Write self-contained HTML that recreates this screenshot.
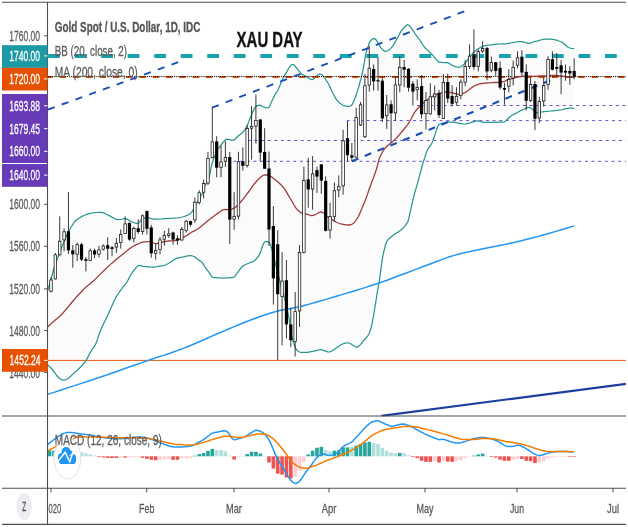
<!DOCTYPE html><html><head><meta charset="utf-8"><title>XAU DAY</title>
<style>html,body{margin:0;padding:0;background:#fff}body{width:628px;height:527px;overflow:hidden}svg{display:block}text{font-family:"Liberation Sans",sans-serif}</style></head><body>
<svg width="628" height="527" viewBox="0 0 628 527">
<rect width="628" height="527" fill="#fff"/>
<defs><clipPath id="cp"><rect x="48" y="3" width="577.9" height="413.5"/></clipPath><clipPath id="cm"><rect x="48" y="417" width="580" height="71"/></clipPath></defs>
<g clip-path="url(#cp)">
<path d="M47.5 291.0 L48.1 289.1 L49.0 286.3 L50.0 283.0 L51.1 279.0 L52.3 274.5 L53.4 270.3 L54.4 266.9 L55.4 264.0 L56.5 261.0 L57.6 257.9 L58.8 254.9 L60.0 251.9 L61.2 248.9 L62.3 245.9 L63.5 243.0 L64.6 240.3 L65.7 237.6 L66.8 235.2 L67.9 233.0 L68.9 231.0 L70.0 229.0 L71.1 227.0 L72.3 225.2 L73.4 223.5 L74.4 222.1 L75.4 221.0 L76.5 220.0 L77.6 219.1 L78.8 218.3 L80.1 217.5 L81.6 216.6 L83.3 215.8 L85.0 215.0 L86.7 214.4 L88.4 213.8 L90.2 213.4 L92.1 213.0 L94.0 212.7 L96.0 212.5 L98.0 212.3 L100.1 212.3 L101.9 212.4 L103.4 212.8 L104.7 213.4 L106.0 214.0 L107.4 214.7 L108.9 215.4 L110.2 216.1 L111.4 216.8 L112.4 217.4 L113.5 218.0 L114.6 218.6 L115.7 219.1 L116.9 219.5 L118.2 219.6 L119.6 219.5 L121.0 219.3 L122.5 219.0 L123.9 218.6 L125.3 218.5 L126.4 218.8 L127.5 219.4 L128.5 220.0 L129.6 220.6 L130.7 221.2 L132.0 221.8 L133.6 222.5 L135.5 223.2 L137.0 223.5 L138.0 223.3 L138.8 222.7 L139.5 222.0 L140.2 221.2 L141.0 220.3 L142.0 219.5 L143.4 218.7 L145.1 217.9 L147.0 217.5 L149.1 217.8 L151.4 218.6 L153.7 219.1 L155.8 219.2 L157.9 219.1 L160.0 219.0 L162.3 218.9 L164.7 218.7 L167.1 218.5 L169.4 218.4 L171.7 218.3 L174.0 218.2 L176.2 218.0 L178.4 217.8 L180.5 217.5 L182.4 217.0 L184.3 216.5 L186.0 215.8 L187.6 215.1 L189.2 214.3 L190.5 213.4 L191.5 212.4 L192.2 211.3 L193.0 210.0 L193.8 208.4 L194.7 206.7 L195.5 205.1 L196.3 203.7 L197.2 202.4 L198.0 201.0 L198.8 199.6 L199.7 198.2 L200.5 196.7 L201.4 195.2 L202.2 193.7 L203.0 192.0 L203.5 190.2 L204.0 188.3 L204.7 186.1 L206.0 183.5 L207.6 180.6 L209.0 177.3 L210.0 173.5 L210.7 169.3 L211.7 165.1 L213.0 160.8 L214.5 156.5 L216.0 152.8 L217.4 150.0 L218.9 147.9 L220.4 145.8 L222.2 143.5 L224.0 141.3 L225.7 139.7 L227.1 139.2 L228.3 139.3 L229.5 139.5 L230.8 139.8 L232.2 140.3 L233.6 140.2 L235.0 139.2 L236.4 137.7 L237.9 136.2 L239.6 134.9 L241.5 133.5 L243.2 131.8 L244.7 129.8 L246.1 127.6 L247.4 125.0 L248.7 121.9 L250.0 118.5 L251.3 115.2 L252.7 112.1 L254.1 109.2 L255.5 107.0 L256.9 105.8 L258.4 105.3 L259.8 105.2 L261.2 105.6 L262.6 106.5 L264.0 107.2 L265.6 107.7 L267.2 108.0 L268.6 107.6 L269.8 106.0 L270.8 103.6 L271.8 101.2 L273.0 98.7 L274.2 96.2 L275.3 94.0 L276.2 92.6 L277.0 91.6 L278.0 90.0 L279.3 87.0 L280.7 83.4 L282.0 80.2 L283.2 77.8 L284.4 75.9 L285.5 74.0 L286.6 72.1 L287.6 70.2 L288.7 68.5 L289.8 66.9 L291.0 65.4 L292.0 64.5 L292.9 64.4 L293.7 64.8 L294.5 65.5 L295.2 66.3 L296.0 67.2 L297.0 68.5 L298.5 70.3 L300.2 72.4 L302.0 74.2 L303.7 75.3 L305.3 76.1 L307.0 76.9 L308.7 78.0 L310.4 79.1 L312.0 79.6 L313.3 79.1 L314.4 78.1 L315.5 77.0 L316.6 76.0 L317.8 74.9 L318.8 74.2 L319.8 74.0 L320.6 74.1 L321.5 74.5 L322.3 75.0 L323.0 75.8 L324.0 77.0 L325.4 79.0 L327.0 81.5 L328.5 84.0 L329.8 86.5 L330.9 89.1 L332.0 91.5 L333.0 93.5 L334.0 95.3 L335.0 97.0 L335.9 98.6 L336.9 100.1 L338.0 101.5 L339.4 102.8 L341.0 104.0 L342.5 105.0 L344.0 105.7 L345.5 106.1 L346.8 106.4 L348.0 106.4 L349.1 106.3 L350.0 106.0 L350.7 105.8 L351.3 105.5 L352.0 104.7 L352.8 103.4 L353.6 101.6 L354.5 99.5 L355.4 97.1 L356.4 94.3 L357.3 91.6 L358.1 89.1 L358.8 86.6 L359.5 84.0 L360.2 81.4 L361.0 78.7 L361.7 75.8 L362.4 72.5 L363.2 68.9 L363.9 65.2 L364.6 61.0 L365.3 56.6 L366.0 53.0 L366.6 50.7 L367.2 49.0 L367.8 47.5 L368.4 45.7 L368.9 44.0 L369.5 42.5 L370.1 41.4 L370.8 40.5 L371.5 39.8 L372.3 39.2 L373.1 38.8 L373.9 38.6 L374.6 38.8 L375.4 39.3 L376.0 39.8 L376.5 40.3 L376.9 40.9 L377.4 41.6 L377.9 42.5 L378.4 43.5 L379.0 44.5 L379.6 45.6 L380.2 46.8 L380.9 47.8 L381.6 48.6 L382.3 49.4 L383.0 50.0 L383.7 50.6 L384.5 51.1 L385.3 51.3 L386.2 51.2 L387.1 50.9 L388.0 50.5 L388.9 50.0 L389.8 49.4 L390.6 48.6 L391.4 47.7 L392.2 46.7 L393.0 45.5 L393.9 44.1 L394.9 42.4 L395.8 40.8 L396.7 39.2 L397.6 37.6 L398.5 36.0 L399.4 34.3 L400.2 32.6 L401.1 31.1 L402.1 29.8 L403.1 28.6 L404.0 27.5 L404.9 26.6 L405.7 25.8 L406.5 25.2 L407.2 24.8 L407.8 24.7 L408.5 25.0 L409.4 25.8 L410.5 27.1 L411.6 28.5 L412.7 30.1 L413.9 31.9 L415.1 33.8 L416.5 35.7 L418.1 37.7 L419.4 39.5 L420.4 40.9 L421.2 42.2 L422.0 43.5 L423.0 45.0 L424.0 46.5 L425.0 47.8 L426.0 48.8 L427.0 49.6 L428.0 50.5 L429.1 51.6 L430.3 52.7 L431.5 53.9 L432.7 55.2 L433.8 56.6 L435.0 58.0 L436.1 59.4 L437.3 60.8 L438.5 61.8 L439.9 62.3 L441.5 62.4 L443.0 62.5 L444.5 62.5 L445.9 62.5 L447.3 62.7 L448.6 63.2 L449.8 63.8 L451.0 64.5 L452.1 65.1 L453.2 65.7 L454.3 66.2 L455.4 66.6 L456.5 67.0 L457.5 67.2 L458.5 67.3 L459.5 67.2 L460.4 67.0 L461.2 66.6 L461.8 66.1 L462.5 65.5 L463.2 64.9 L464.0 64.3 L464.8 63.5 L465.7 62.4 L466.6 61.2 L467.5 60.0 L468.3 58.9 L469.1 57.7 L470.0 56.5 L471.1 55.2 L472.3 53.8 L473.5 52.5 L474.7 51.4 L475.8 50.4 L477.0 49.5 L478.2 48.7 L479.3 48.1 L480.5 47.5 L481.6 46.9 L482.8 46.4 L484.0 46.0 L485.3 45.7 L486.6 45.4 L488.0 45.2 L489.5 45.0 L491.1 44.8 L492.8 44.6 L494.8 44.4 L496.9 44.2 L499.0 44.0 L501.1 43.9 L503.1 43.9 L505.0 43.8 L506.7 43.6 L508.3 43.3 L510.0 43.0 L511.9 42.7 L513.9 42.3 L515.6 42.0 L516.9 41.8 L518.0 41.6 L519.0 41.5 L520.0 41.5 L521.0 41.5 L522.0 41.6 L523.1 41.8 L524.3 42.2 L525.5 42.5 L526.6 42.9 L527.8 43.3 L529.0 43.4 L530.3 43.1 L531.6 42.5 L533.0 42.0 L534.6 41.6 L536.2 41.2 L537.8 40.8 L539.2 40.4 L540.6 40.0 L542.0 39.6 L543.5 39.3 L545.0 39.1 L546.5 39.0 L548.0 39.0 L549.5 39.1 L551.0 39.2 L552.5 39.4 L553.9 39.6 L555.3 39.9 L556.6 40.2 L557.8 40.6 L559.0 41.0 L560.2 41.5 L561.3 41.9 L562.3 42.5 L563.2 43.1 L564.1 43.8 L565.0 44.5 L565.8 45.3 L566.7 46.2 L567.6 46.9 L568.7 47.5 L569.9 48.0 L571.0 48.3 L572.2 48.5 L573.4 48.6 L574.2 48.6 L574.2 108.3 L573.4 108.3 L572.2 108.2 L571.0 108.2 L569.9 108.2 L568.8 108.2 L567.6 108.3 L566.4 108.5 L565.2 108.9 L564.0 109.2 L562.9 109.5 L561.8 109.8 L560.6 110.0 L559.1 110.2 L557.5 110.4 L556.0 110.5 L554.6 110.6 L553.2 110.8 L551.8 110.9 L550.2 111.0 L548.6 111.2 L547.0 111.3 L545.6 111.5 L544.3 111.6 L543.0 111.8 L541.8 112.0 L540.6 112.2 L539.5 112.4 L538.5 112.7 L537.6 112.9 L536.5 112.7 L535.2 111.8 L533.8 110.4 L532.5 109.2 L531.3 108.4 L530.1 107.8 L529.0 107.4 L528.1 107.4 L527.3 107.7 L526.5 108.0 L525.7 108.3 L524.8 108.7 L523.9 109.2 L522.8 109.7 L521.7 110.2 L520.5 110.8 L519.4 111.4 L518.2 112.0 L517.0 112.7 L515.7 113.4 L514.3 114.1 L513.0 114.8 L511.8 115.5 L510.7 116.2 L509.7 117.0 L508.8 117.8 L507.9 118.7 L507.0 119.5 L506.2 120.4 L505.5 121.2 L504.3 121.8 L502.4 122.1 L500.2 122.2 L498.0 122.2 L496.2 122.3 L494.5 122.3 L492.8 122.3 L491.1 122.3 L489.5 122.4 L488.0 122.4 L486.6 122.4 L485.3 122.4 L484.0 122.3 L482.8 122.1 L481.6 121.9 L480.5 121.6 L479.5 121.3 L478.4 120.9 L477.0 120.9 L474.9 121.4 L472.3 122.1 L470.0 122.8 L468.1 123.3 L466.4 123.8 L464.8 124.0 L463.1 123.9 L461.5 123.7 L460.0 123.4 L458.6 123.1 L457.3 122.8 L456.0 122.6 L454.7 122.4 L453.4 122.3 L452.0 122.2 L450.4 122.1 L448.8 122.0 L447.3 122.0 L446.1 122.2 L445.1 122.5 L444.0 122.8 L442.7 123.2 L441.4 123.6 L440.3 124.0 L439.6 124.3 L439.0 124.6 L438.5 125.2 L438.0 126.1 L437.4 127.3 L436.8 129.0 L435.9 131.6 L435.0 134.6 L434.0 137.5 L433.2 139.9 L432.4 142.1 L431.5 144.0 L430.5 145.5 L429.5 146.7 L428.5 148.0 L427.7 149.5 L427.0 151.1 L426.3 153.0 L425.5 155.2 L424.8 157.6 L424.0 160.0 L423.3 162.1 L422.7 164.2 L421.9 167.0 L420.8 171.0 L419.6 175.7 L418.5 180.0 L417.5 183.6 L416.5 186.8 L415.7 189.6 L415.1 191.7 L414.6 193.4 L414.0 195.5 L413.3 198.4 L412.5 201.7 L411.8 204.9 L411.2 207.7 L410.6 210.3 L410.0 213.0 L409.3 215.9 L408.7 218.8 L408.0 221.2 L407.4 222.7 L406.7 223.6 L406.0 224.5 L405.2 225.6 L404.2 226.8 L403.2 227.9 L402.0 229.0 L400.8 230.0 L399.5 231.0 L398.2 231.9 L397.0 232.7 L395.6 233.6 L394.1 234.6 L392.5 235.8 L391.0 237.0 L389.5 238.2 L388.1 239.6 L386.9 241.3 L386.0 243.5 L385.2 246.0 L384.5 249.0 L383.7 252.2 L382.9 255.9 L382.1 260.5 L381.2 266.9 L380.2 274.4 L379.3 281.0 L378.5 285.7 L377.8 289.5 L377.0 294.0 L376.1 300.0 L375.0 306.7 L374.0 313.0 L373.0 318.6 L372.0 323.7 L371.0 328.0 L370.0 331.2 L369.1 333.5 L368.0 335.5 L366.7 337.3 L365.3 338.8 L364.0 340.2 L362.8 341.7 L361.8 343.0 L360.8 344.2 L360.0 345.1 L359.2 345.8 L358.5 346.3 L357.9 346.8 L357.3 347.2 L356.5 347.2 L355.4 346.7 L354.2 346.0 L353.0 345.2 L351.8 344.5 L350.6 343.7 L349.5 343.2 L348.5 343.0 L347.5 342.9 L346.5 343.0 L345.5 343.1 L344.4 343.4 L343.3 343.7 L342.2 344.2 L341.1 344.8 L340.0 345.5 L338.8 346.3 L337.6 347.1 L336.3 348.0 L335.0 348.9 L333.7 349.7 L332.5 350.5 L331.5 351.2 L330.5 351.7 L329.3 352.0 L327.6 351.8 L325.7 351.2 L324.0 350.7 L322.7 350.2 L321.7 349.7 L320.6 349.5 L319.4 349.6 L318.2 350.0 L317.0 350.3 L315.9 350.6 L314.7 350.9 L313.6 351.2 L312.4 351.5 L311.2 351.7 L310.0 351.9 L308.8 352.1 L307.7 352.3 L306.5 352.4 L305.3 352.4 L304.2 352.4 L303.0 352.3 L301.8 352.3 L300.7 352.3 L299.5 352.0 L298.3 351.3 L297.1 350.2 L296.0 349.0 L295.2 347.6 L294.6 346.0 L294.0 344.0 L293.3 341.8 L292.5 339.3 L291.7 335.8 L290.9 330.7 L290.0 324.6 L289.0 318.3 L287.7 311.8 L286.2 305.0 L284.7 298.6 L283.2 293.1 L281.8 288.0 L280.3 282.8 L278.8 277.0 L277.3 270.9 L275.9 265.3 L274.6 260.1 L273.5 255.4 L272.4 251.3 L271.5 248.0 L270.7 245.4 L269.8 243.4 L268.7 242.2 L267.4 241.7 L266.3 241.6 L265.4 241.6 L264.6 242.0 L263.6 243.4 L262.3 246.7 L260.9 251.0 L259.3 254.8 L257.6 257.4 L255.7 259.5 L254.0 261.0 L252.6 261.9 L251.3 262.2 L250.0 262.6 L248.7 263.2 L247.3 263.8 L246.0 264.5 L244.8 265.0 L243.6 265.6 L242.3 266.5 L240.9 268.1 L239.4 270.1 L238.0 272.0 L236.7 273.9 L235.4 275.7 L234.0 277.0 L232.4 277.6 L230.7 277.7 L229.0 277.8 L227.4 277.9 L225.7 278.0 L223.9 278.0 L221.7 278.0 L219.2 277.9 L217.0 277.8 L215.2 277.7 L213.6 277.6 L212.2 277.0 L211.0 275.6 L209.9 273.8 L208.8 272.0 L207.5 270.3 L206.2 268.6 L205.0 267.0 L204.0 265.4 L203.2 263.9 L202.2 262.5 L201.0 261.5 L199.7 260.6 L198.3 259.7 L196.9 258.6 L195.4 257.4 L194.0 256.5 L192.7 256.0 L191.6 255.8 L190.4 255.7 L189.2 255.7 L188.1 255.8 L187.0 256.0 L185.9 256.3 L184.9 256.6 L183.8 256.9 L182.6 257.1 L181.3 257.3 L180.0 257.5 L178.6 257.8 L177.1 258.2 L175.5 258.8 L173.7 259.9 L171.8 261.3 L170.0 262.5 L168.4 263.5 L166.8 264.3 L165.4 265.0 L164.1 265.4 L162.9 265.6 L161.5 265.8 L159.6 266.2 L157.4 266.7 L155.4 267.0 L153.8 267.1 L152.4 267.1 L151.0 267.0 L149.6 266.9 L148.3 266.8 L147.0 266.7 L145.7 266.6 L144.4 266.5 L143.0 266.3 L141.6 265.9 L140.1 265.5 L138.7 265.5 L137.5 266.1 L136.5 267.2 L135.3 268.6 L133.9 270.3 L132.4 272.3 L131.0 274.5 L129.6 277.0 L128.3 279.6 L127.0 282.0 L125.7 283.8 L124.3 285.4 L123.0 287.0 L121.7 288.8 L120.3 290.6 L119.0 292.5 L117.7 294.5 L116.3 296.6 L115.0 299.0 L113.7 301.8 L112.3 304.9 L111.0 308.0 L109.6 311.0 L108.3 314.1 L106.9 317.0 L105.6 319.8 L104.2 322.4 L103.0 325.0 L102.0 327.2 L101.1 329.3 L100.0 332.0 L98.6 335.9 L97.1 340.4 L95.7 344.0 L94.7 345.9 L93.9 346.9 L93.0 348.0 L92.1 349.5 L91.1 351.1 L90.0 353.0 L88.8 355.4 L87.4 358.0 L86.1 360.4 L84.7 362.3 L83.4 364.0 L82.0 365.5 L80.7 367.0 L79.3 368.3 L78.1 369.5 L77.0 370.4 L76.0 371.2 L75.0 372.0 L74.0 372.9 L73.1 373.9 L72.0 375.0 L70.7 376.2 L69.4 377.4 L68.0 378.5 L66.6 379.3 L65.3 380.0 L63.8 380.2 L62.2 379.9 L60.6 379.1 L59.0 378.0 L57.6 376.5 L56.3 374.8 L55.0 373.0 L53.7 371.3 L52.3 369.5 L51.0 368.0 L49.6 366.7 L48.3 365.5 L47.4 364.7 Z" fill="#000" fill-opacity="0.017"/>
<line x1="417.0" y1="105.5" x2="628" y2="105.5" stroke="#6038d4" stroke-width="1" stroke-dasharray="2.9 3.73" stroke-opacity="0.92"/>
<line x1="346.8" y1="120.6" x2="628" y2="120.6" stroke="#6038d4" stroke-width="1" stroke-dasharray="2.9 3.73" stroke-opacity="0.92"/>
<line x1="247.8" y1="140.5" x2="628" y2="140.5" stroke="#6038d4" stroke-width="1" stroke-dasharray="2.9 3.73" stroke-opacity="0.92"/>
<line x1="233.6" y1="161.3" x2="628" y2="161.3" stroke="#6038d4" stroke-width="1" stroke-dasharray="2.9 3.73" stroke-opacity="0.92"/>
<line x1="48" y1="360.4" x2="628" y2="360.4" stroke="#e8590c" stroke-width="1"/>
<path d="M47.4 394.5 L53.2 392.6 L61.1 390.0 L70.6 386.9 L80.7 383.6 L90.8 380.3 L100.0 377.2 L108.8 374.2 L118.0 371.0 L127.0 367.8 L135.7 364.8 L143.4 362.1 L150.0 359.8 L155.1 358.1 L158.9 356.8 L161.8 355.9 L164.4 355.1 L167.0 354.2 L170.0 353.2 L173.3 352.0 L176.6 350.9 L179.8 349.7 L183.2 348.4 L186.7 347.0 L190.5 345.5 L194.5 343.8 L198.7 342.0 L203.1 340.0 L207.7 338.0 L212.4 335.9 L217.3 333.8 L222.5 331.6 L228.0 329.3 L233.7 326.9 L239.3 324.5 L244.8 322.3 L250.0 320.3 L254.9 318.5 L259.5 316.8 L264.0 315.2 L268.4 313.8 L272.6 312.5 L276.8 311.3 L280.8 310.3 L284.6 309.5 L288.3 308.9 L292.0 308.2 L295.7 307.5 L299.5 306.7 L303.5 305.7 L307.7 304.6 L311.9 303.4 L316.0 302.2 L320.1 301.0 L324.0 299.9 L327.6 298.9 L330.8 297.9 L334.0 297.0 L337.2 296.0 L340.9 294.9 L345.1 293.6 L349.8 292.2 L354.8 290.7 L360.1 289.1 L365.8 287.4 L372.1 285.3 L379.0 283.0 L387.0 280.2 L396.0 276.8 L405.6 273.2 L415.1 269.6 L423.9 266.3 L431.5 263.5 L437.3 261.3 L441.8 259.6 L445.7 258.1 L449.5 256.8 L454.1 255.4 L460.0 253.8 L467.8 252.0 L477.0 250.0 L486.8 248.0 L496.8 246.1 L506.0 244.2 L514.0 242.5 L520.5 241.0 L526.1 239.6 L531.1 238.3 L535.7 237.1 L540.2 235.8 L545.0 234.5 L550.3 233.0 L555.9 231.4 L561.4 229.8 L566.6 228.2 L570.9 226.9 L574.0 226.0" fill="none" stroke="#2196f3" stroke-width="1.5" stroke-linejoin="round"/>
<path d="M47.5 291.0 L48.1 289.1 L49.0 286.3 L50.0 283.0 L51.1 279.0 L52.3 274.5 L53.4 270.3 L54.4 266.9 L55.4 264.0 L56.5 261.0 L57.6 257.9 L58.8 254.9 L60.0 251.9 L61.2 248.9 L62.3 245.9 L63.5 243.0 L64.6 240.3 L65.7 237.6 L66.8 235.2 L67.9 233.0 L68.9 231.0 L70.0 229.0 L71.1 227.0 L72.3 225.2 L73.4 223.5 L74.4 222.1 L75.4 221.0 L76.5 220.0 L77.6 219.1 L78.8 218.3 L80.1 217.5 L81.6 216.6 L83.3 215.8 L85.0 215.0 L86.7 214.4 L88.4 213.8 L90.2 213.4 L92.1 213.0 L94.0 212.7 L96.0 212.5 L98.0 212.3 L100.1 212.3 L101.9 212.4 L103.4 212.8 L104.7 213.4 L106.0 214.0 L107.4 214.7 L108.9 215.4 L110.2 216.1 L111.4 216.8 L112.4 217.4 L113.5 218.0 L114.6 218.6 L115.7 219.1 L116.9 219.5 L118.2 219.6 L119.6 219.5 L121.0 219.3 L122.5 219.0 L123.9 218.6 L125.3 218.5 L126.4 218.8 L127.5 219.4 L128.5 220.0 L129.6 220.6 L130.7 221.2 L132.0 221.8 L133.6 222.5 L135.5 223.2 L137.0 223.5 L138.0 223.3 L138.8 222.7 L139.5 222.0 L140.2 221.2 L141.0 220.3 L142.0 219.5 L143.4 218.7 L145.1 217.9 L147.0 217.5 L149.1 217.8 L151.4 218.6 L153.7 219.1 L155.8 219.2 L157.9 219.1 L160.0 219.0 L162.3 218.9 L164.7 218.7 L167.1 218.5 L169.4 218.4 L171.7 218.3 L174.0 218.2 L176.2 218.0 L178.4 217.8 L180.5 217.5 L182.4 217.0 L184.3 216.5 L186.0 215.8 L187.6 215.1 L189.2 214.3 L190.5 213.4 L191.5 212.4 L192.2 211.3 L193.0 210.0 L193.8 208.4 L194.7 206.7 L195.5 205.1 L196.3 203.7 L197.2 202.4 L198.0 201.0 L198.8 199.6 L199.7 198.2 L200.5 196.7 L201.4 195.2 L202.2 193.7 L203.0 192.0 L203.5 190.2 L204.0 188.3 L204.7 186.1 L206.0 183.5 L207.6 180.6 L209.0 177.3 L210.0 173.5 L210.7 169.3 L211.7 165.1 L213.0 160.8 L214.5 156.5 L216.0 152.8 L217.4 150.0 L218.9 147.9 L220.4 145.8 L222.2 143.5 L224.0 141.3 L225.7 139.7 L227.1 139.2 L228.3 139.3 L229.5 139.5 L230.8 139.8 L232.2 140.3 L233.6 140.2 L235.0 139.2 L236.4 137.7 L237.9 136.2 L239.6 134.9 L241.5 133.5 L243.2 131.8 L244.7 129.8 L246.1 127.6 L247.4 125.0 L248.7 121.9 L250.0 118.5 L251.3 115.2 L252.7 112.1 L254.1 109.2 L255.5 107.0 L256.9 105.8 L258.4 105.3 L259.8 105.2 L261.2 105.6 L262.6 106.5 L264.0 107.2 L265.6 107.7 L267.2 108.0 L268.6 107.6 L269.8 106.0 L270.8 103.6 L271.8 101.2 L273.0 98.7 L274.2 96.2 L275.3 94.0 L276.2 92.6 L277.0 91.6 L278.0 90.0 L279.3 87.0 L280.7 83.4 L282.0 80.2 L283.2 77.8 L284.4 75.9 L285.5 74.0 L286.6 72.1 L287.6 70.2 L288.7 68.5 L289.8 66.9 L291.0 65.4 L292.0 64.5 L292.9 64.4 L293.7 64.8 L294.5 65.5 L295.2 66.3 L296.0 67.2 L297.0 68.5 L298.5 70.3 L300.2 72.4 L302.0 74.2 L303.7 75.3 L305.3 76.1 L307.0 76.9 L308.7 78.0 L310.4 79.1 L312.0 79.6 L313.3 79.1 L314.4 78.1 L315.5 77.0 L316.6 76.0 L317.8 74.9 L318.8 74.2 L319.8 74.0 L320.6 74.1 L321.5 74.5 L322.3 75.0 L323.0 75.8 L324.0 77.0 L325.4 79.0 L327.0 81.5 L328.5 84.0 L329.8 86.5 L330.9 89.1 L332.0 91.5 L333.0 93.5 L334.0 95.3 L335.0 97.0 L335.9 98.6 L336.9 100.1 L338.0 101.5 L339.4 102.8 L341.0 104.0 L342.5 105.0 L344.0 105.7 L345.5 106.1 L346.8 106.4 L348.0 106.4 L349.1 106.3 L350.0 106.0 L350.7 105.8 L351.3 105.5 L352.0 104.7 L352.8 103.4 L353.6 101.6 L354.5 99.5 L355.4 97.1 L356.4 94.3 L357.3 91.6 L358.1 89.1 L358.8 86.6 L359.5 84.0 L360.2 81.4 L361.0 78.7 L361.7 75.8 L362.4 72.5 L363.2 68.9 L363.9 65.2 L364.6 61.0 L365.3 56.6 L366.0 53.0 L366.6 50.7 L367.2 49.0 L367.8 47.5 L368.4 45.7 L368.9 44.0 L369.5 42.5 L370.1 41.4 L370.8 40.5 L371.5 39.8 L372.3 39.2 L373.1 38.8 L373.9 38.6 L374.6 38.8 L375.4 39.3 L376.0 39.8 L376.5 40.3 L376.9 40.9 L377.4 41.6 L377.9 42.5 L378.4 43.5 L379.0 44.5 L379.6 45.6 L380.2 46.8 L380.9 47.8 L381.6 48.6 L382.3 49.4 L383.0 50.0 L383.7 50.6 L384.5 51.1 L385.3 51.3 L386.2 51.2 L387.1 50.9 L388.0 50.5 L388.9 50.0 L389.8 49.4 L390.6 48.6 L391.4 47.7 L392.2 46.7 L393.0 45.5 L393.9 44.1 L394.9 42.4 L395.8 40.8 L396.7 39.2 L397.6 37.6 L398.5 36.0 L399.4 34.3 L400.2 32.6 L401.1 31.1 L402.1 29.8 L403.1 28.6 L404.0 27.5 L404.9 26.6 L405.7 25.8 L406.5 25.2 L407.2 24.8 L407.8 24.7 L408.5 25.0 L409.4 25.8 L410.5 27.1 L411.6 28.5 L412.7 30.1 L413.9 31.9 L415.1 33.8 L416.5 35.7 L418.1 37.7 L419.4 39.5 L420.4 40.9 L421.2 42.2 L422.0 43.5 L423.0 45.0 L424.0 46.5 L425.0 47.8 L426.0 48.8 L427.0 49.6 L428.0 50.5 L429.1 51.6 L430.3 52.7 L431.5 53.9 L432.7 55.2 L433.8 56.6 L435.0 58.0 L436.1 59.4 L437.3 60.8 L438.5 61.8 L439.9 62.3 L441.5 62.4 L443.0 62.5 L444.5 62.5 L445.9 62.5 L447.3 62.7 L448.6 63.2 L449.8 63.8 L451.0 64.5 L452.1 65.1 L453.2 65.7 L454.3 66.2 L455.4 66.6 L456.5 67.0 L457.5 67.2 L458.5 67.3 L459.5 67.2 L460.4 67.0 L461.2 66.6 L461.8 66.1 L462.5 65.5 L463.2 64.9 L464.0 64.3 L464.8 63.5 L465.7 62.4 L466.6 61.2 L467.5 60.0 L468.3 58.9 L469.1 57.7 L470.0 56.5 L471.1 55.2 L472.3 53.8 L473.5 52.5 L474.7 51.4 L475.8 50.4 L477.0 49.5 L478.2 48.7 L479.3 48.1 L480.5 47.5 L481.6 46.9 L482.8 46.4 L484.0 46.0 L485.3 45.7 L486.6 45.4 L488.0 45.2 L489.5 45.0 L491.1 44.8 L492.8 44.6 L494.8 44.4 L496.9 44.2 L499.0 44.0 L501.1 43.9 L503.1 43.9 L505.0 43.8 L506.7 43.6 L508.3 43.3 L510.0 43.0 L511.9 42.7 L513.9 42.3 L515.6 42.0 L516.9 41.8 L518.0 41.6 L519.0 41.5 L520.0 41.5 L521.0 41.5 L522.0 41.6 L523.1 41.8 L524.3 42.2 L525.5 42.5 L526.6 42.9 L527.8 43.3 L529.0 43.4 L530.3 43.1 L531.6 42.5 L533.0 42.0 L534.6 41.6 L536.2 41.2 L537.8 40.8 L539.2 40.4 L540.6 40.0 L542.0 39.6 L543.5 39.3 L545.0 39.1 L546.5 39.0 L548.0 39.0 L549.5 39.1 L551.0 39.2 L552.5 39.4 L553.9 39.6 L555.3 39.9 L556.6 40.2 L557.8 40.6 L559.0 41.0 L560.2 41.5 L561.3 41.9 L562.3 42.5 L563.2 43.1 L564.1 43.8 L565.0 44.5 L565.8 45.3 L566.7 46.2 L567.6 46.9 L568.7 47.5 L569.9 48.0 L571.0 48.3 L572.2 48.5 L573.4 48.6 L574.2 48.6" fill="none" stroke="#27968f" stroke-width="1.25" stroke-linejoin="round"/>
<path d="M47.4 364.7 L48.3 365.5 L49.6 366.7 L51.0 368.0 L52.3 369.5 L53.7 371.3 L55.0 373.0 L56.3 374.8 L57.6 376.5 L59.0 378.0 L60.6 379.1 L62.2 379.9 L63.8 380.2 L65.3 380.0 L66.6 379.3 L68.0 378.5 L69.4 377.4 L70.7 376.2 L72.0 375.0 L73.1 373.9 L74.0 372.9 L75.0 372.0 L76.0 371.2 L77.0 370.4 L78.1 369.5 L79.3 368.3 L80.7 367.0 L82.0 365.5 L83.4 364.0 L84.7 362.3 L86.1 360.4 L87.4 358.0 L88.8 355.4 L90.0 353.0 L91.1 351.1 L92.1 349.5 L93.0 348.0 L93.9 346.9 L94.7 345.9 L95.7 344.0 L97.1 340.4 L98.6 335.9 L100.0 332.0 L101.1 329.3 L102.0 327.2 L103.0 325.0 L104.2 322.4 L105.6 319.8 L106.9 317.0 L108.3 314.1 L109.6 311.0 L111.0 308.0 L112.3 304.9 L113.7 301.8 L115.0 299.0 L116.3 296.6 L117.7 294.5 L119.0 292.5 L120.3 290.6 L121.7 288.8 L123.0 287.0 L124.3 285.4 L125.7 283.8 L127.0 282.0 L128.3 279.6 L129.6 277.0 L131.0 274.5 L132.4 272.3 L133.9 270.3 L135.3 268.6 L136.5 267.2 L137.5 266.1 L138.7 265.5 L140.1 265.5 L141.6 265.9 L143.0 266.3 L144.4 266.5 L145.7 266.6 L147.0 266.7 L148.3 266.8 L149.6 266.9 L151.0 267.0 L152.4 267.1 L153.8 267.1 L155.4 267.0 L157.4 266.7 L159.6 266.2 L161.5 265.8 L162.9 265.6 L164.1 265.4 L165.4 265.0 L166.8 264.3 L168.4 263.5 L170.0 262.5 L171.8 261.3 L173.7 259.9 L175.5 258.8 L177.1 258.2 L178.6 257.8 L180.0 257.5 L181.3 257.3 L182.6 257.1 L183.8 256.9 L184.9 256.6 L185.9 256.3 L187.0 256.0 L188.1 255.8 L189.2 255.7 L190.4 255.7 L191.6 255.8 L192.7 256.0 L194.0 256.5 L195.4 257.4 L196.9 258.6 L198.3 259.7 L199.7 260.6 L201.0 261.5 L202.2 262.5 L203.2 263.9 L204.0 265.4 L205.0 267.0 L206.2 268.6 L207.5 270.3 L208.8 272.0 L209.9 273.8 L211.0 275.6 L212.2 277.0 L213.6 277.6 L215.2 277.7 L217.0 277.8 L219.2 277.9 L221.7 278.0 L223.9 278.0 L225.7 278.0 L227.4 277.9 L229.0 277.8 L230.7 277.7 L232.4 277.6 L234.0 277.0 L235.4 275.7 L236.7 273.9 L238.0 272.0 L239.4 270.1 L240.9 268.1 L242.3 266.5 L243.6 265.6 L244.8 265.0 L246.0 264.5 L247.3 263.8 L248.7 263.2 L250.0 262.6 L251.3 262.2 L252.6 261.9 L254.0 261.0 L255.7 259.5 L257.6 257.4 L259.3 254.8 L260.9 251.0 L262.3 246.7 L263.6 243.4 L264.6 242.0 L265.4 241.6 L266.3 241.6 L267.4 241.7 L268.7 242.2 L269.8 243.4 L270.7 245.4 L271.5 248.0 L272.4 251.3 L273.5 255.4 L274.6 260.1 L275.9 265.3 L277.3 270.9 L278.8 277.0 L280.3 282.8 L281.8 288.0 L283.2 293.1 L284.7 298.6 L286.2 305.0 L287.7 311.8 L289.0 318.3 L290.0 324.6 L290.9 330.7 L291.7 335.8 L292.5 339.3 L293.3 341.8 L294.0 344.0 L294.6 346.0 L295.2 347.6 L296.0 349.0 L297.1 350.2 L298.3 351.3 L299.5 352.0 L300.7 352.3 L301.8 352.3 L303.0 352.3 L304.2 352.4 L305.3 352.4 L306.5 352.4 L307.7 352.3 L308.8 352.1 L310.0 351.9 L311.2 351.7 L312.4 351.5 L313.6 351.2 L314.7 350.9 L315.9 350.6 L317.0 350.3 L318.2 350.0 L319.4 349.6 L320.6 349.5 L321.7 349.7 L322.7 350.2 L324.0 350.7 L325.7 351.2 L327.6 351.8 L329.3 352.0 L330.5 351.7 L331.5 351.2 L332.5 350.5 L333.7 349.7 L335.0 348.9 L336.3 348.0 L337.6 347.1 L338.8 346.3 L340.0 345.5 L341.1 344.8 L342.2 344.2 L343.3 343.7 L344.4 343.4 L345.5 343.1 L346.5 343.0 L347.5 342.9 L348.5 343.0 L349.5 343.2 L350.6 343.7 L351.8 344.5 L353.0 345.2 L354.2 346.0 L355.4 346.7 L356.5 347.2 L357.3 347.2 L357.9 346.8 L358.5 346.3 L359.2 345.8 L360.0 345.1 L360.8 344.2 L361.8 343.0 L362.8 341.7 L364.0 340.2 L365.3 338.8 L366.7 337.3 L368.0 335.5 L369.1 333.5 L370.0 331.2 L371.0 328.0 L372.0 323.7 L373.0 318.6 L374.0 313.0 L375.0 306.7 L376.1 300.0 L377.0 294.0 L377.8 289.5 L378.5 285.7 L379.3 281.0 L380.2 274.4 L381.2 266.9 L382.1 260.5 L382.9 255.9 L383.7 252.2 L384.5 249.0 L385.2 246.0 L386.0 243.5 L386.9 241.3 L388.1 239.6 L389.5 238.2 L391.0 237.0 L392.5 235.8 L394.1 234.6 L395.6 233.6 L397.0 232.7 L398.2 231.9 L399.5 231.0 L400.8 230.0 L402.0 229.0 L403.2 227.9 L404.2 226.8 L405.2 225.6 L406.0 224.5 L406.7 223.6 L407.4 222.7 L408.0 221.2 L408.7 218.8 L409.3 215.9 L410.0 213.0 L410.6 210.3 L411.2 207.7 L411.8 204.9 L412.5 201.7 L413.3 198.4 L414.0 195.5 L414.6 193.4 L415.1 191.7 L415.7 189.6 L416.5 186.8 L417.5 183.6 L418.5 180.0 L419.6 175.7 L420.8 171.0 L421.9 167.0 L422.7 164.2 L423.3 162.1 L424.0 160.0 L424.8 157.6 L425.5 155.2 L426.3 153.0 L427.0 151.1 L427.7 149.5 L428.5 148.0 L429.5 146.7 L430.5 145.5 L431.5 144.0 L432.4 142.1 L433.2 139.9 L434.0 137.5 L435.0 134.6 L435.9 131.6 L436.8 129.0 L437.4 127.3 L438.0 126.1 L438.5 125.2 L439.0 124.6 L439.6 124.3 L440.3 124.0 L441.4 123.6 L442.7 123.2 L444.0 122.8 L445.1 122.5 L446.1 122.2 L447.3 122.0 L448.8 122.0 L450.4 122.1 L452.0 122.2 L453.4 122.3 L454.7 122.4 L456.0 122.6 L457.3 122.8 L458.6 123.1 L460.0 123.4 L461.5 123.7 L463.1 123.9 L464.8 124.0 L466.4 123.8 L468.1 123.3 L470.0 122.8 L472.3 122.1 L474.9 121.4 L477.0 120.9 L478.4 120.9 L479.5 121.3 L480.5 121.6 L481.6 121.9 L482.8 122.1 L484.0 122.3 L485.3 122.4 L486.6 122.4 L488.0 122.4 L489.5 122.4 L491.1 122.3 L492.8 122.3 L494.5 122.3 L496.2 122.3 L498.0 122.2 L500.2 122.2 L502.4 122.1 L504.3 121.8 L505.5 121.2 L506.2 120.4 L507.0 119.5 L507.9 118.7 L508.8 117.8 L509.7 117.0 L510.7 116.2 L511.8 115.5 L513.0 114.8 L514.3 114.1 L515.7 113.4 L517.0 112.7 L518.2 112.0 L519.4 111.4 L520.5 110.8 L521.7 110.2 L522.8 109.7 L523.9 109.2 L524.8 108.7 L525.7 108.3 L526.5 108.0 L527.3 107.7 L528.1 107.4 L529.0 107.4 L530.1 107.8 L531.3 108.4 L532.5 109.2 L533.8 110.4 L535.2 111.8 L536.5 112.7 L537.6 112.9 L538.5 112.7 L539.5 112.4 L540.6 112.2 L541.8 112.0 L543.0 111.8 L544.3 111.6 L545.6 111.5 L547.0 111.3 L548.6 111.2 L550.2 111.0 L551.8 110.9 L553.2 110.8 L554.6 110.6 L556.0 110.5 L557.5 110.4 L559.1 110.2 L560.6 110.0 L561.8 109.8 L562.9 109.5 L564.0 109.2 L565.2 108.9 L566.4 108.5 L567.6 108.3 L568.8 108.2 L569.9 108.2 L571.0 108.2 L572.2 108.2 L573.4 108.3 L574.2 108.3" fill="none" stroke="#27968f" stroke-width="1.25" stroke-linejoin="round"/>
<line x1="48.1" y1="56" x2="628" y2="56" stroke="#17a2ae" stroke-width="4" stroke-dasharray="11.8 14.72"/>
<line x1="48" y1="76.9" x2="628" y2="76.9" stroke="#e65100" stroke-width="2" stroke-dasharray="6.4 6.9" stroke-dashoffset="1.7"/>
<line x1="48" y1="76.6" x2="628" y2="76.6" stroke="#000" stroke-width="1" stroke-dasharray="1.1 1"/>
<line x1="48" y1="109.5" x2="184.5" y2="59.9" stroke="#1b4fb8" stroke-width="1.9" stroke-dasharray="7.2 7.4"/>
<line x1="212" y1="107.6" x2="465" y2="11.1" stroke="#1b4fb8" stroke-width="1.9" stroke-dasharray="7.2 7.4"/>
<line x1="352" y1="161.2" x2="550.7" y2="80.2" stroke="#1b4fb8" stroke-width="2.15" stroke-dasharray="7 6.8"/>
<line x1="381.5" y1="415.8" x2="628" y2="383.6" stroke="#1a3f9e" stroke-width="2.2"/>
<path d="M47.4 327.1 L48.8 325.8 L50.8 324.0 L53.0 322.0 L55.3 320.1 L57.7 318.1 L60.0 316.0 L62.0 314.0 L63.9 311.9 L66.0 309.5 L68.4 306.6 L70.9 303.5 L73.4 300.5 L75.7 297.9 L77.8 295.5 L80.0 293.2 L82.3 290.8 L84.6 288.4 L86.8 286.3 L88.5 284.9 L90.1 283.7 L92.2 282.0 L95.3 279.1 L98.8 275.6 L101.8 272.6 L103.8 270.7 L105.3 269.2 L107.0 267.6 L109.2 265.6 L111.5 263.4 L114.1 261.2 L117.0 258.8 L120.2 256.3 L122.8 254.2 L124.5 252.8 L125.7 251.8 L127.0 250.8 L128.4 249.6 L129.9 248.4 L131.6 247.2 L133.9 245.9 L136.4 244.6 L138.6 243.6 L140.0 243.0 L141.0 242.7 L142.0 242.4 L143.1 242.1 L144.3 241.9 L145.6 241.8 L147.2 241.7 L148.8 241.7 L150.4 241.8 L151.7 242.2 L152.9 242.8 L154.0 243.2 L155.0 243.4 L156.0 243.6 L157.1 243.5 L158.6 243.2 L160.3 242.7 L162.0 242.3 L163.7 241.9 L165.4 241.5 L167.1 241.2 L168.7 241.0 L170.4 240.9 L172.0 240.8 L173.7 240.7 L175.4 240.5 L177.1 240.2 L178.7 239.6 L180.4 238.8 L182.0 238.0 L183.7 237.1 L185.5 236.2 L187.2 235.2 L188.8 234.1 L190.4 233.0 L192.0 232.0 L193.7 231.1 L195.5 230.3 L197.2 229.3 L198.8 228.2 L200.4 226.9 L202.0 225.6 L203.7 224.2 L205.5 222.7 L207.2 221.3 L208.8 220.0 L210.4 218.8 L212.0 217.5 L213.8 216.2 L215.6 214.8 L217.3 213.6 L218.7 212.6 L219.9 211.7 L221.0 211.0 L222.0 210.4 L222.9 209.9 L224.0 209.6 L225.7 209.5 L227.6 209.6 L229.3 209.6 L230.7 209.4 L231.9 209.1 L233.0 208.6 L234.1 208.1 L235.1 207.5 L236.3 206.5 L237.8 205.0 L239.6 203.2 L241.5 201.0 L243.7 198.3 L246.1 195.2 L248.5 192.0 L250.9 188.7 L253.2 185.4 L255.5 182.5 L257.7 180.0 L259.8 177.9 L261.7 176.3 L263.3 175.4 L264.6 175.0 L266.0 174.9 L267.4 175.0 L268.8 175.5 L270.4 176.3 L272.3 177.4 L274.3 178.9 L276.5 180.7 L278.8 182.7 L281.2 185.0 L283.6 187.7 L286.0 191.2 L288.4 195.3 L290.6 199.0 L292.5 202.3 L294.2 205.3 L295.8 207.8 L297.3 209.7 L298.8 211.1 L300.2 212.2 L301.5 212.9 L302.7 213.4 L304.0 213.7 L305.3 214.0 L306.7 214.2 L308.0 214.5 L309.3 215.0 L310.6 215.5 L311.9 215.7 L313.4 215.4 L315.0 214.7 L316.5 214.0 L317.9 213.2 L319.3 212.4 L320.6 211.9 L321.6 212.0 L322.5 212.4 L323.5 213.0 L324.6 213.9 L325.7 215.1 L326.8 216.2 L328.0 217.0 L329.3 217.8 L330.5 218.5 L331.6 219.3 L332.7 220.1 L333.8 220.8 L334.9 221.4 L335.9 222.0 L337.0 222.5 L338.2 223.0 L339.5 223.5 L340.8 223.9 L342.2 224.2 L343.6 224.5 L345.0 224.7 L346.6 224.9 L348.2 225.0 L349.5 225.0 L350.4 224.9 L351.1 224.6 L351.8 224.3 L352.5 223.9 L353.2 223.5 L353.9 222.9 L354.6 222.1 L355.3 221.2 L356.0 220.2 L356.8 219.0 L357.7 217.7 L358.5 216.2 L359.3 214.4 L360.2 212.5 L361.0 210.5 L361.9 208.5 L362.7 206.4 L363.6 204.3 L364.4 202.4 L365.2 200.6 L366.0 198.5 L366.9 195.9 L367.9 193.1 L368.8 190.3 L369.7 187.8 L370.6 185.4 L371.5 183.0 L372.3 180.7 L373.2 178.6 L374.0 176.3 L374.8 174.0 L375.6 171.7 L376.5 169.0 L377.4 165.6 L378.4 162.0 L379.3 158.8 L380.1 156.6 L381.0 154.8 L381.8 153.2 L382.7 151.6 L383.6 150.0 L384.6 148.6 L385.9 147.2 L387.3 145.9 L388.8 144.7 L390.2 143.6 L391.6 142.5 L393.0 141.3 L394.5 139.9 L396.1 138.4 L397.6 136.8 L399.1 135.1 L400.5 133.3 L402.0 131.5 L403.5 129.8 L404.9 128.0 L406.3 126.3 L407.6 124.6 L408.8 122.9 L410.0 121.0 L411.2 118.8 L412.3 116.5 L413.3 114.5 L414.3 112.9 L415.1 111.7 L416.0 110.5 L416.8 109.5 L417.6 108.6 L418.4 107.7 L419.2 106.8 L420.1 105.9 L421.0 105.0 L422.1 104.0 L423.3 103.0 L424.5 102.0 L425.7 101.1 L426.8 100.2 L428.0 99.3 L429.2 98.5 L430.3 97.7 L431.5 97.0 L432.7 96.3 L433.8 95.8 L435.0 95.2 L436.2 94.7 L437.3 94.2 L438.5 93.8 L439.7 93.4 L440.8 93.1 L442.0 92.8 L443.2 92.5 L444.3 92.2 L445.5 92.0 L446.7 92.0 L447.8 92.1 L449.0 92.2 L450.2 92.4 L451.3 92.6 L452.5 92.9 L453.7 93.2 L454.8 93.5 L456.0 93.8 L457.2 94.1 L458.3 94.4 L459.5 94.5 L460.7 94.3 L461.8 93.8 L463.0 93.3 L464.2 92.8 L465.3 92.3 L466.5 91.6 L467.7 90.8 L468.8 89.9 L470.0 89.0 L471.2 88.1 L472.4 87.1 L473.6 86.3 L474.7 85.7 L475.9 85.2 L477.0 84.8 L478.2 84.4 L479.3 84.0 L480.6 83.7 L482.0 83.5 L483.5 83.3 L485.0 83.1 L486.4 83.0 L487.8 82.9 L489.3 82.8 L490.9 82.7 L492.5 82.6 L494.0 82.5 L495.4 82.5 L496.6 82.5 L498.0 82.4 L499.6 82.2 L501.3 82.0 L502.8 81.7 L504.0 81.4 L504.9 81.1 L506.0 80.7 L507.2 80.2 L508.6 79.7 L509.8 79.2 L510.9 78.8 L511.9 78.5 L513.0 78.2 L514.2 77.9 L515.5 77.5 L516.8 77.2 L518.2 76.9 L519.6 76.7 L521.0 76.5 L522.5 76.3 L524.0 76.2 L525.5 76.1 L527.0 76.1 L528.5 76.1 L530.0 76.2 L531.4 76.2 L532.8 76.3 L534.3 76.3 L536.0 76.2 L537.7 76.1 L539.5 76.0 L541.2 75.9 L542.9 75.9 L544.8 75.8 L547.1 75.7 L549.6 75.5 L551.8 75.4 L553.4 75.4 L554.7 75.4 L556.0 75.5 L557.5 75.6 L559.1 75.7 L560.6 75.8 L562.1 76.0 L563.5 76.3 L565.0 76.5 L566.4 76.7 L567.8 77.0 L569.3 77.2 L571.1 77.3 L572.9 77.4 L574.2 77.5" fill="none" stroke="#9e3d3d" stroke-width="1.3" stroke-linejoin="round"/>
<line x1="51.00" y1="277.0" x2="51.00" y2="292.5" stroke="#222" stroke-width="0.9"/>
<rect x="49.75" y="280.0" width="2.5" height="11.2" fill="#fff" stroke="#111" stroke-width="0.75"/>
<line x1="55.36" y1="253.0" x2="55.36" y2="279.6" stroke="#222" stroke-width="0.9"/>
<rect x="54.11" y="254.8" width="2.5" height="24.1" fill="#fff" stroke="#111" stroke-width="0.75"/>
<line x1="59.72" y1="216.3" x2="59.72" y2="255.4" stroke="#222" stroke-width="0.9"/>
<rect x="58.47" y="241.2" width="2.5" height="13.7" fill="#fff" stroke="#111" stroke-width="0.75"/>
<line x1="64.08" y1="228.2" x2="64.08" y2="251.3" stroke="#222" stroke-width="0.9"/>
<rect x="62.83" y="231.8" width="2.5" height="8.1" fill="#fff" stroke="#111" stroke-width="0.75"/>
<line x1="68.44" y1="192.1" x2="68.44" y2="254.0" stroke="#222" stroke-width="0.9"/>
<rect x="66.84" y="231.2" width="3.2" height="19.2" fill="#000"/>
<line x1="72.80" y1="245.0" x2="72.80" y2="267.7" stroke="#222" stroke-width="0.9"/>
<rect x="71.20" y="250.4" width="3.2" height="3.9" fill="#000"/>
<line x1="77.16" y1="242.5" x2="77.16" y2="261.0" stroke="#222" stroke-width="0.9"/>
<rect x="75.91" y="244.7" width="2.5" height="9.5" fill="#fff" stroke="#111" stroke-width="0.75"/>
<line x1="81.52" y1="243.0" x2="81.52" y2="261.0" stroke="#222" stroke-width="0.9"/>
<rect x="79.92" y="244.3" width="3.2" height="15.4" fill="#000"/>
<line x1="85.88" y1="257.0" x2="85.88" y2="271.4" stroke="#222" stroke-width="0.9"/>
<rect x="84.28" y="259.2" width="3.2" height="1.6" fill="#000"/>
<line x1="90.24" y1="248.5" x2="90.24" y2="261.0" stroke="#222" stroke-width="0.9"/>
<rect x="88.99" y="250.8" width="2.5" height="9.5" fill="#fff" stroke="#111" stroke-width="0.75"/>
<line x1="94.60" y1="248.7" x2="94.60" y2="258.3" stroke="#222" stroke-width="0.9"/>
<rect x="93.00" y="250.4" width="3.2" height="4.1" fill="#000"/>
<line x1="98.96" y1="245.7" x2="98.96" y2="257.4" stroke="#222" stroke-width="0.9"/>
<rect x="97.71" y="249.9" width="2.5" height="4.2" fill="#fff" stroke="#111" stroke-width="0.75"/>
<line x1="103.32" y1="244.3" x2="103.32" y2="250.5" stroke="#222" stroke-width="0.9"/>
<rect x="102.07" y="246.0" width="2.5" height="3.2" fill="#fff" stroke="#111" stroke-width="0.75"/>
<line x1="107.68" y1="237.3" x2="107.68" y2="260.0" stroke="#222" stroke-width="0.9"/>
<rect x="106.08" y="245.2" width="3.2" height="3.5" fill="#000"/>
<line x1="112.04" y1="246.0" x2="112.04" y2="256.2" stroke="#222" stroke-width="0.9"/>
<rect x="110.44" y="247.3" width="3.2" height="1.6" fill="#000"/>
<line x1="116.40" y1="238.2" x2="116.40" y2="253.0" stroke="#222" stroke-width="0.9"/>
<rect x="115.15" y="243.3" width="2.5" height="3.8" fill="#fff" stroke="#111" stroke-width="0.75"/>
<line x1="120.76" y1="229.4" x2="120.76" y2="248.7" stroke="#222" stroke-width="0.9"/>
<rect x="119.51" y="234.4" width="2.5" height="8.2" fill="#fff" stroke="#111" stroke-width="0.75"/>
<line x1="125.12" y1="216.3" x2="125.12" y2="234.0" stroke="#222" stroke-width="0.9"/>
<rect x="123.87" y="223.9" width="2.5" height="9.5" fill="#fff" stroke="#111" stroke-width="0.75"/>
<line x1="129.48" y1="222.4" x2="129.48" y2="240.8" stroke="#222" stroke-width="0.9"/>
<rect x="127.88" y="222.9" width="3.2" height="16.7" fill="#000"/>
<line x1="133.84" y1="226.8" x2="133.84" y2="242.5" stroke="#222" stroke-width="0.9"/>
<rect x="132.59" y="228.5" width="2.5" height="9.8" fill="#fff" stroke="#111" stroke-width="0.75"/>
<line x1="138.20" y1="219.4" x2="138.20" y2="233.8" stroke="#222" stroke-width="0.9"/>
<rect x="136.60" y="228.2" width="3.2" height="3.8" fill="#000"/>
<line x1="142.56" y1="214.5" x2="142.56" y2="234.7" stroke="#222" stroke-width="0.9"/>
<rect x="141.31" y="215.8" width="2.5" height="15.6" fill="#fff" stroke="#111" stroke-width="0.75"/>
<line x1="146.92" y1="210.6" x2="146.92" y2="234.5" stroke="#222" stroke-width="0.9"/>
<rect x="145.32" y="211.0" width="3.2" height="17.8" fill="#000"/>
<line x1="151.28" y1="224.8" x2="151.28" y2="257.7" stroke="#222" stroke-width="0.9"/>
<rect x="149.68" y="227.5" width="3.2" height="25.8" fill="#000"/>
<line x1="155.64" y1="244.0" x2="155.64" y2="259.7" stroke="#222" stroke-width="0.9"/>
<rect x="154.39" y="250.3" width="2.5" height="2.9" fill="#fff" stroke="#111" stroke-width="0.75"/>
<line x1="160.00" y1="237.0" x2="160.00" y2="254.4" stroke="#222" stroke-width="0.9"/>
<rect x="158.75" y="239.9" width="2.5" height="9.7" fill="#fff" stroke="#111" stroke-width="0.75"/>
<line x1="164.36" y1="230.8" x2="164.36" y2="245.7" stroke="#222" stroke-width="0.9"/>
<rect x="163.11" y="235.5" width="2.5" height="3.7" fill="#fff" stroke="#111" stroke-width="0.75"/>
<line x1="168.72" y1="228.2" x2="168.72" y2="237.8" stroke="#222" stroke-width="0.9"/>
<rect x="167.47" y="233.8" width="2.5" height="1.6" fill="#fff" stroke="#111" stroke-width="0.75"/>
<line x1="173.08" y1="231.7" x2="173.08" y2="244.8" stroke="#222" stroke-width="0.9"/>
<rect x="171.48" y="232.5" width="3.2" height="7.1" fill="#000"/>
<line x1="177.44" y1="235.2" x2="177.44" y2="244.8" stroke="#222" stroke-width="0.9"/>
<rect x="175.84" y="238.3" width="3.2" height="2.1" fill="#000"/>
<line x1="181.80" y1="227.0" x2="181.80" y2="240.6" stroke="#222" stroke-width="0.9"/>
<rect x="180.55" y="229.3" width="2.5" height="10.7" fill="#fff" stroke="#111" stroke-width="0.75"/>
<line x1="186.16" y1="220.0" x2="186.16" y2="232.5" stroke="#222" stroke-width="0.9"/>
<rect x="184.91" y="221.2" width="2.5" height="9.3" fill="#fff" stroke="#111" stroke-width="0.75"/>
<line x1="190.52" y1="220.6" x2="190.52" y2="226.4" stroke="#222" stroke-width="0.9"/>
<rect x="188.92" y="221.2" width="3.2" height="3.5" fill="#000"/>
<line x1="194.88" y1="197.5" x2="194.88" y2="222.9" stroke="#222" stroke-width="0.9"/>
<rect x="193.63" y="202.2" width="2.5" height="17.7" fill="#fff" stroke="#111" stroke-width="0.75"/>
<line x1="199.24" y1="190.2" x2="199.24" y2="204.5" stroke="#222" stroke-width="0.9"/>
<rect x="197.99" y="192.7" width="2.5" height="9.8" fill="#fff" stroke="#111" stroke-width="0.75"/>
<line x1="203.60" y1="179.5" x2="203.60" y2="198.4" stroke="#222" stroke-width="0.9"/>
<rect x="202.35" y="183.5" width="2.5" height="8.7" fill="#fff" stroke="#111" stroke-width="0.75"/>
<line x1="207.96" y1="151.9" x2="207.96" y2="185.0" stroke="#222" stroke-width="0.9"/>
<rect x="206.71" y="158.3" width="2.5" height="24.8" fill="#fff" stroke="#111" stroke-width="0.75"/>
<line x1="212.32" y1="107.3" x2="212.32" y2="158.3" stroke="#222" stroke-width="0.9"/>
<rect x="211.07" y="141.8" width="2.5" height="15.9" fill="#fff" stroke="#111" stroke-width="0.75"/>
<line x1="216.68" y1="136.2" x2="216.68" y2="177.3" stroke="#222" stroke-width="0.9"/>
<rect x="215.08" y="141.4" width="3.2" height="26.3" fill="#000"/>
<line x1="221.04" y1="145.8" x2="221.04" y2="177.3" stroke="#222" stroke-width="0.9"/>
<rect x="219.79" y="161.9" width="2.5" height="5.4" fill="#fff" stroke="#111" stroke-width="0.75"/>
<line x1="225.40" y1="141.4" x2="225.40" y2="166.8" stroke="#222" stroke-width="0.9"/>
<rect x="224.15" y="157.5" width="2.5" height="3.7" fill="#fff" stroke="#111" stroke-width="0.75"/>
<line x1="229.76" y1="151.9" x2="229.76" y2="243.9" stroke="#222" stroke-width="0.9"/>
<rect x="228.16" y="157.0" width="3.2" height="62.6" fill="#000"/>
<line x1="234.12" y1="192.2" x2="234.12" y2="229.8" stroke="#222" stroke-width="0.9"/>
<rect x="232.87" y="216.3" width="2.5" height="2.8" fill="#fff" stroke="#111" stroke-width="0.75"/>
<line x1="238.48" y1="151.8" x2="238.48" y2="219.3" stroke="#222" stroke-width="0.9"/>
<rect x="237.23" y="161.8" width="2.5" height="54.3" fill="#fff" stroke="#111" stroke-width="0.75"/>
<line x1="242.84" y1="147.5" x2="242.84" y2="170.6" stroke="#222" stroke-width="0.9"/>
<rect x="241.24" y="161.3" width="3.2" height="4.5" fill="#000"/>
<line x1="247.20" y1="125.3" x2="247.20" y2="167.5" stroke="#222" stroke-width="0.9"/>
<rect x="245.95" y="128.4" width="2.5" height="37.0" fill="#fff" stroke="#111" stroke-width="0.75"/>
<line x1="251.56" y1="106.0" x2="251.56" y2="159.7" stroke="#222" stroke-width="0.9"/>
<rect x="250.31" y="126.3" width="2.5" height="1.9" fill="#fff" stroke="#111" stroke-width="0.75"/>
<line x1="255.92" y1="94.5" x2="255.92" y2="143.6" stroke="#222" stroke-width="0.9"/>
<rect x="254.67" y="120.5" width="2.5" height="5.5" fill="#fff" stroke="#111" stroke-width="0.75"/>
<line x1="260.28" y1="119.0" x2="260.28" y2="161.5" stroke="#222" stroke-width="0.9"/>
<rect x="258.68" y="119.5" width="3.2" height="33.1" fill="#000"/>
<line x1="264.64" y1="128.2" x2="264.64" y2="168.9" stroke="#222" stroke-width="0.9"/>
<rect x="263.04" y="151.9" width="3.2" height="16.8" fill="#000"/>
<line x1="269.00" y1="151.6" x2="269.00" y2="246.0" stroke="#222" stroke-width="0.9"/>
<rect x="267.40" y="168.5" width="3.2" height="61.0" fill="#000"/>
<line x1="273.36" y1="206.0" x2="273.36" y2="304.5" stroke="#222" stroke-width="0.9"/>
<rect x="271.76" y="226.0" width="3.2" height="52.4" fill="#000"/>
<line x1="277.72" y1="230.3" x2="277.72" y2="360.3" stroke="#222" stroke-width="0.9"/>
<rect x="276.12" y="244.3" width="3.2" height="49.9" fill="#000"/>
<line x1="282.08" y1="252.2" x2="282.08" y2="345.4" stroke="#222" stroke-width="0.9"/>
<rect x="280.83" y="281.1" width="2.5" height="15.4" fill="#fff" stroke="#111" stroke-width="0.75"/>
<line x1="286.44" y1="260.0" x2="286.44" y2="338.4" stroke="#222" stroke-width="0.9"/>
<rect x="284.84" y="280.2" width="3.2" height="44.2" fill="#000"/>
<line x1="290.80" y1="307.8" x2="290.80" y2="347.2" stroke="#222" stroke-width="0.9"/>
<rect x="289.20" y="324.4" width="3.2" height="15.8" fill="#000"/>
<line x1="295.16" y1="292.0" x2="295.16" y2="356.5" stroke="#222" stroke-width="0.9"/>
<rect x="293.91" y="311.7" width="2.5" height="29.9" fill="#fff" stroke="#111" stroke-width="0.75"/>
<line x1="299.52" y1="245.1" x2="299.52" y2="327.0" stroke="#222" stroke-width="0.9"/>
<rect x="298.27" y="252.5" width="2.5" height="58.4" fill="#fff" stroke="#111" stroke-width="0.75"/>
<line x1="303.88" y1="166.6" x2="303.88" y2="253.5" stroke="#222" stroke-width="0.9"/>
<rect x="302.63" y="180.4" width="2.5" height="71.9" fill="#fff" stroke="#111" stroke-width="0.75"/>
<line x1="308.24" y1="157.9" x2="308.24" y2="207.8" stroke="#222" stroke-width="0.9"/>
<rect x="306.64" y="179.4" width="3.2" height="10.0" fill="#000"/>
<line x1="312.60" y1="156.1" x2="312.60" y2="209.6" stroke="#222" stroke-width="0.9"/>
<rect x="311.35" y="173.9" width="2.5" height="15.1" fill="#fff" stroke="#111" stroke-width="0.75"/>
<line x1="316.96" y1="166.6" x2="316.96" y2="192.9" stroke="#222" stroke-width="0.9"/>
<rect x="315.36" y="170.1" width="3.2" height="6.5" fill="#000"/>
<line x1="321.32" y1="164.0" x2="321.32" y2="193.8" stroke="#222" stroke-width="0.9"/>
<rect x="319.72" y="164.4" width="3.2" height="16.3" fill="#000"/>
<line x1="325.68" y1="176.3" x2="325.68" y2="231.5" stroke="#222" stroke-width="0.9"/>
<rect x="324.08" y="180.9" width="3.2" height="49.9" fill="#000"/>
<line x1="330.04" y1="202.5" x2="330.04" y2="238.5" stroke="#222" stroke-width="0.9"/>
<rect x="328.79" y="216.5" width="2.5" height="13.5" fill="#fff" stroke="#111" stroke-width="0.75"/>
<line x1="334.40" y1="182.4" x2="334.40" y2="221.8" stroke="#222" stroke-width="0.9"/>
<rect x="333.15" y="190.7" width="2.5" height="25.6" fill="#fff" stroke="#111" stroke-width="0.75"/>
<line x1="338.76" y1="175.4" x2="338.76" y2="197.3" stroke="#222" stroke-width="0.9"/>
<rect x="337.51" y="186.7" width="2.5" height="3.3" fill="#fff" stroke="#111" stroke-width="0.75"/>
<line x1="343.12" y1="129.8" x2="343.12" y2="194.7" stroke="#222" stroke-width="0.9"/>
<rect x="341.87" y="140.9" width="2.5" height="45.0" fill="#fff" stroke="#111" stroke-width="0.75"/>
<line x1="347.48" y1="121.0" x2="347.48" y2="161.3" stroke="#222" stroke-width="0.9"/>
<rect x="345.88" y="138.2" width="3.2" height="17.0" fill="#000"/>
<line x1="351.84" y1="142.9" x2="351.84" y2="161.3" stroke="#222" stroke-width="0.9"/>
<rect x="350.24" y="155.2" width="3.2" height="2.5" fill="#000"/>
<line x1="356.20" y1="107.9" x2="356.20" y2="157.8" stroke="#222" stroke-width="0.9"/>
<rect x="354.95" y="117.5" width="2.5" height="39.6" fill="#fff" stroke="#111" stroke-width="0.75"/>
<line x1="360.56" y1="102.0" x2="360.56" y2="126.0" stroke="#222" stroke-width="0.9"/>
<rect x="359.31" y="104.8" width="2.5" height="20.2" fill="#fff" stroke="#111" stroke-width="0.75"/>
<line x1="364.92" y1="74.0" x2="364.92" y2="138.0" stroke="#222" stroke-width="0.9"/>
<rect x="363.67" y="85.8" width="2.5" height="51.0" fill="#fff" stroke="#111" stroke-width="0.75"/>
<line x1="369.28" y1="46.0" x2="369.28" y2="91.6" stroke="#222" stroke-width="0.9"/>
<rect x="368.03" y="68.2" width="2.5" height="16.8" fill="#fff" stroke="#111" stroke-width="0.75"/>
<line x1="373.64" y1="64.4" x2="373.64" y2="90.7" stroke="#222" stroke-width="0.9"/>
<rect x="372.04" y="69.1" width="3.2" height="12.3" fill="#000"/>
<line x1="378.00" y1="57.4" x2="378.00" y2="90.7" stroke="#222" stroke-width="0.9"/>
<rect x="376.40" y="80.2" width="3.2" height="1.2" fill="#000"/>
<line x1="382.36" y1="77.5" x2="382.36" y2="121.9" stroke="#222" stroke-width="0.9"/>
<rect x="380.76" y="80.7" width="3.2" height="37.7" fill="#000"/>
<line x1="386.72" y1="95.0" x2="386.72" y2="128.9" stroke="#222" stroke-width="0.9"/>
<rect x="385.47" y="104.9" width="2.5" height="10.8" fill="#fff" stroke="#111" stroke-width="0.75"/>
<line x1="391.08" y1="100.3" x2="391.08" y2="142.9" stroke="#222" stroke-width="0.9"/>
<rect x="389.48" y="104.3" width="3.2" height="9.0" fill="#000"/>
<line x1="395.44" y1="77.5" x2="395.44" y2="121.0" stroke="#222" stroke-width="0.9"/>
<rect x="394.19" y="84.9" width="2.5" height="28.0" fill="#fff" stroke="#111" stroke-width="0.75"/>
<line x1="399.80" y1="56.5" x2="399.80" y2="92.4" stroke="#222" stroke-width="0.9"/>
<rect x="398.55" y="67.3" width="2.5" height="17.7" fill="#fff" stroke="#111" stroke-width="0.75"/>
<line x1="404.16" y1="60.0" x2="404.16" y2="87.2" stroke="#222" stroke-width="0.9"/>
<rect x="402.56" y="67.0" width="3.2" height="2.7" fill="#000"/>
<line x1="408.52" y1="68.0" x2="408.52" y2="91.6" stroke="#222" stroke-width="0.9"/>
<rect x="406.92" y="68.8" width="3.2" height="18.9" fill="#000"/>
<line x1="412.88" y1="81.0" x2="412.88" y2="105.6" stroke="#222" stroke-width="0.9"/>
<rect x="411.28" y="83.7" width="3.2" height="7.9" fill="#000"/>
<line x1="417.24" y1="79.3" x2="417.24" y2="100.3" stroke="#222" stroke-width="0.9"/>
<rect x="415.99" y="87.5" width="2.5" height="2.3" fill="#fff" stroke="#111" stroke-width="0.75"/>
<line x1="421.60" y1="75.0" x2="421.60" y2="118.6" stroke="#222" stroke-width="0.9"/>
<rect x="420.00" y="86.0" width="3.2" height="28.3" fill="#000"/>
<line x1="425.96" y1="92.0" x2="425.96" y2="129.5" stroke="#222" stroke-width="0.9"/>
<rect x="424.71" y="100.6" width="2.5" height="13.1" fill="#fff" stroke="#111" stroke-width="0.75"/>
<line x1="430.32" y1="83.3" x2="430.32" y2="114.5" stroke="#222" stroke-width="0.9"/>
<rect x="429.07" y="96.8" width="2.5" height="17.1" fill="#fff" stroke="#111" stroke-width="0.75"/>
<line x1="434.68" y1="85.4" x2="434.68" y2="110.4" stroke="#222" stroke-width="0.9"/>
<rect x="433.43" y="93.9" width="2.5" height="3.0" fill="#fff" stroke="#111" stroke-width="0.75"/>
<line x1="439.04" y1="89.9" x2="439.04" y2="117.9" stroke="#222" stroke-width="0.9"/>
<rect x="437.44" y="92.9" width="3.2" height="22.2" fill="#000"/>
<line x1="443.40" y1="74.0" x2="443.40" y2="119.0" stroke="#222" stroke-width="0.9"/>
<rect x="442.15" y="82.3" width="2.5" height="36.1" fill="#fff" stroke="#111" stroke-width="0.75"/>
<line x1="447.76" y1="73.7" x2="447.76" y2="103.0" stroke="#222" stroke-width="0.9"/>
<rect x="446.16" y="82.0" width="3.2" height="16.6" fill="#000"/>
<line x1="452.12" y1="85.4" x2="452.12" y2="106.4" stroke="#222" stroke-width="0.9"/>
<rect x="450.52" y="96.0" width="3.2" height="7.8" fill="#000"/>
<line x1="456.48" y1="87.2" x2="456.48" y2="105.6" stroke="#222" stroke-width="0.9"/>
<rect x="455.23" y="96.3" width="2.5" height="6.3" fill="#fff" stroke="#111" stroke-width="0.75"/>
<line x1="460.84" y1="79.3" x2="460.84" y2="99.4" stroke="#222" stroke-width="0.9"/>
<rect x="459.59" y="82.2" width="2.5" height="13.4" fill="#fff" stroke="#111" stroke-width="0.75"/>
<line x1="465.20" y1="60.0" x2="465.20" y2="86.3" stroke="#222" stroke-width="0.9"/>
<rect x="463.95" y="66.5" width="2.5" height="15.6" fill="#fff" stroke="#111" stroke-width="0.75"/>
<line x1="469.56" y1="44.3" x2="469.56" y2="68.8" stroke="#222" stroke-width="0.9"/>
<rect x="468.31" y="56.1" width="2.5" height="10.3" fill="#fff" stroke="#111" stroke-width="0.75"/>
<line x1="473.92" y1="29.4" x2="473.92" y2="69.7" stroke="#222" stroke-width="0.9"/>
<rect x="472.32" y="54.4" width="3.2" height="12.6" fill="#000"/>
<line x1="478.28" y1="49.5" x2="478.28" y2="71.4" stroke="#222" stroke-width="0.9"/>
<rect x="477.03" y="51.6" width="2.5" height="14.7" fill="#fff" stroke="#111" stroke-width="0.75"/>
<line x1="482.64" y1="41.1" x2="482.64" y2="53.0" stroke="#222" stroke-width="0.9"/>
<rect x="481.39" y="48.5" width="2.5" height="2.5" fill="#fff" stroke="#111" stroke-width="0.75"/>
<line x1="487.00" y1="46.9" x2="487.00" y2="80.2" stroke="#222" stroke-width="0.9"/>
<rect x="485.40" y="48.1" width="3.2" height="23.3" fill="#000"/>
<line x1="491.36" y1="56.5" x2="491.36" y2="72.3" stroke="#222" stroke-width="0.9"/>
<rect x="490.11" y="62.6" width="2.5" height="7.5" fill="#fff" stroke="#111" stroke-width="0.75"/>
<line x1="495.72" y1="61.8" x2="495.72" y2="75.8" stroke="#222" stroke-width="0.9"/>
<rect x="494.12" y="62.3" width="3.2" height="8.6" fill="#000"/>
<line x1="500.08" y1="61.4" x2="500.08" y2="89.4" stroke="#222" stroke-width="0.9"/>
<rect x="498.48" y="67.9" width="3.2" height="19.6" fill="#000"/>
<line x1="504.44" y1="82.8" x2="504.44" y2="104.7" stroke="#222" stroke-width="0.9"/>
<rect x="502.84" y="88.0" width="3.2" height="1.7" fill="#000"/>
<line x1="508.80" y1="69.3" x2="508.80" y2="92.4" stroke="#222" stroke-width="0.9"/>
<rect x="507.55" y="79.6" width="2.5" height="6.5" fill="#fff" stroke="#111" stroke-width="0.75"/>
<line x1="513.16" y1="60.5" x2="513.16" y2="85.4" stroke="#222" stroke-width="0.9"/>
<rect x="511.91" y="67.3" width="2.5" height="10.7" fill="#fff" stroke="#111" stroke-width="0.75"/>
<line x1="517.52" y1="51.3" x2="517.52" y2="68.4" stroke="#222" stroke-width="0.9"/>
<rect x="516.27" y="57.8" width="2.5" height="7.4" fill="#fff" stroke="#111" stroke-width="0.75"/>
<line x1="521.88" y1="50.2" x2="521.88" y2="75.8" stroke="#222" stroke-width="0.9"/>
<rect x="520.28" y="56.7" width="3.2" height="15.8" fill="#000"/>
<line x1="526.24" y1="64.4" x2="526.24" y2="110.5" stroke="#222" stroke-width="0.9"/>
<rect x="524.64" y="71.9" width="3.2" height="28.9" fill="#000"/>
<line x1="530.60" y1="77.5" x2="530.60" y2="102.0" stroke="#222" stroke-width="0.9"/>
<rect x="529.35" y="84.5" width="2.5" height="15.9" fill="#fff" stroke="#111" stroke-width="0.75"/>
<line x1="534.96" y1="81.0" x2="534.96" y2="130.2" stroke="#222" stroke-width="0.9"/>
<rect x="533.36" y="84.0" width="3.2" height="34.8" fill="#000"/>
<line x1="539.32" y1="96.9" x2="539.32" y2="123.2" stroke="#222" stroke-width="0.9"/>
<rect x="538.07" y="101.6" width="2.5" height="16.4" fill="#fff" stroke="#111" stroke-width="0.75"/>
<line x1="543.68" y1="77.5" x2="543.68" y2="106.5" stroke="#222" stroke-width="0.9"/>
<rect x="542.43" y="85.6" width="2.5" height="15.4" fill="#fff" stroke="#111" stroke-width="0.75"/>
<line x1="548.04" y1="56.2" x2="548.04" y2="89.8" stroke="#222" stroke-width="0.9"/>
<rect x="546.79" y="59.6" width="2.5" height="25.0" fill="#fff" stroke="#111" stroke-width="0.75"/>
<line x1="552.40" y1="51.3" x2="552.40" y2="70.5" stroke="#222" stroke-width="0.9"/>
<rect x="550.80" y="59.2" width="3.2" height="10.5" fill="#000"/>
<line x1="556.76" y1="53.0" x2="556.76" y2="75.8" stroke="#222" stroke-width="0.9"/>
<rect x="555.16" y="67.0" width="3.2" height="1.8" fill="#000"/>
<line x1="561.12" y1="60.0" x2="561.12" y2="94.2" stroke="#222" stroke-width="0.9"/>
<rect x="559.52" y="65.3" width="3.2" height="7.3" fill="#000"/>
<line x1="565.48" y1="64.4" x2="565.48" y2="80.7" stroke="#222" stroke-width="0.9"/>
<rect x="563.88" y="70.9" width="3.2" height="1.7" fill="#000"/>
<line x1="569.84" y1="66.2" x2="569.84" y2="84.6" stroke="#222" stroke-width="0.9"/>
<rect x="568.24" y="70.9" width="3.2" height="2.6" fill="#000"/>
<line x1="574.20" y1="58.3" x2="574.20" y2="79.3" stroke="#222" stroke-width="0.9"/>
<rect x="572.60" y="70.9" width="3.2" height="5.8" fill="#000"/>
</g>
<g clip-path="url(#cm)">
<rect x="48" y="450.5" width="3.2" height="5.8" fill="#26a69a"/>
<rect x="51.7" y="450.7" width="3" height="5.6" fill="#3fb0a5"/>
<rect x="53.56" y="451.8" width="3.6" height="4.5" fill="#b2dfdb"/>
<rect x="57.92" y="452.3" width="3.6" height="4.0" fill="#b2dfdb"/>
<rect x="62.28" y="452.8" width="3.6" height="3.5" fill="#b2dfdb"/>
<rect x="66.64" y="453.1" width="3.6" height="3.2" fill="#b2dfdb"/>
<rect x="71.00" y="453.3" width="3.6" height="3.0" fill="#b2dfdb"/>
<rect x="75.36" y="453.5" width="3.6" height="2.8" fill="#b2dfdb"/>
<rect x="79.72" y="452.1" width="3.6" height="4.2" fill="#b2dfdb"/>
<rect x="84.08" y="453.3" width="3.6" height="3.0" fill="#b2dfdb"/>
<rect x="88.44" y="454.4" width="3.6" height="1.9" fill="#b2dfdb"/>
<rect x="92.80" y="455.5" width="3.6" height="0.8" fill="#b2dfdb"/>
<rect x="97.16" y="456.3" width="3.6" height="0.8" fill="#ef5350"/>
<rect x="101.52" y="456.3" width="3.6" height="1.2" fill="#ef5350"/>
<rect x="105.88" y="456.3" width="3.6" height="1.6" fill="#ef5350"/>
<rect x="110.24" y="456.3" width="3.6" height="1.7" fill="#ef5350"/>
<rect x="114.60" y="456.3" width="3.6" height="1.7" fill="#ef5350"/>
<rect x="118.96" y="456.3" width="3.6" height="1.3" fill="#ffcdd2"/>
<rect x="123.32" y="456.3" width="3.6" height="1.3" fill="#ef5350"/>
<rect x="127.68" y="456.3" width="3.6" height="1.2" fill="#ffcdd2"/>
<rect x="132.04" y="456.3" width="3.6" height="1.0" fill="#ffcdd2"/>
<rect x="136.40" y="456.3" width="3.6" height="0.8" fill="#ffcdd2"/>
<rect x="140.76" y="456.3" width="3.6" height="1.5" fill="#ef5350"/>
<rect x="145.12" y="456.3" width="3.6" height="2.5" fill="#ef5350"/>
<rect x="149.48" y="456.3" width="3.6" height="3.5" fill="#ef5350"/>
<rect x="153.84" y="456.3" width="3.6" height="4.0" fill="#ef5350"/>
<rect x="158.20" y="456.3" width="3.6" height="3.5" fill="#ffcdd2"/>
<rect x="162.56" y="456.3" width="3.6" height="3.0" fill="#ffcdd2"/>
<rect x="166.92" y="456.3" width="3.6" height="2.5" fill="#ffcdd2"/>
<rect x="171.28" y="456.3" width="3.6" height="3.5" fill="#ef5350"/>
<rect x="175.64" y="456.3" width="3.6" height="3.5" fill="#ef5350"/>
<rect x="180.00" y="456.3" width="3.6" height="2.0" fill="#ffcdd2"/>
<rect x="184.36" y="456.3" width="3.6" height="2.0" fill="#ffcdd2"/>
<rect x="188.72" y="456.3" width="3.6" height="1.8" fill="#ffcdd2"/>
<rect x="193.08" y="455.7" width="3.6" height="0.6" fill="#26a69a"/>
<rect x="197.44" y="454.1" width="3.6" height="2.2" fill="#26a69a"/>
<rect x="201.80" y="453.0" width="3.6" height="3.3" fill="#26a69a"/>
<rect x="206.16" y="450.8" width="3.6" height="5.5" fill="#26a69a"/>
<rect x="210.52" y="448.9" width="3.6" height="7.4" fill="#26a69a"/>
<rect x="214.88" y="450.1" width="3.6" height="6.2" fill="#b2dfdb"/>
<rect x="219.24" y="450.1" width="3.6" height="6.2" fill="#b2dfdb"/>
<rect x="223.60" y="451.4" width="3.6" height="4.9" fill="#b2dfdb"/>
<rect x="227.96" y="455.6" width="3.6" height="0.7" fill="#b2dfdb"/>
<rect x="232.32" y="456.3" width="3.6" height="3.3" fill="#ef5350"/>
<rect x="236.68" y="456.3" width="3.6" height="1.1" fill="#ffcdd2"/>
<rect x="241.04" y="455.8" width="3.6" height="0.5" fill="#b2dfdb"/>
<rect x="245.40" y="454.1" width="3.6" height="2.2" fill="#26a69a"/>
<rect x="249.76" y="451.8" width="3.6" height="4.5" fill="#26a69a"/>
<rect x="254.12" y="451.8" width="3.6" height="4.5" fill="#26a69a"/>
<rect x="258.48" y="453.6" width="3.6" height="2.7" fill="#26a69a"/>
<rect x="262.84" y="455.8" width="3.6" height="0.5" fill="#b2dfdb"/>
<rect x="267.20" y="456.3" width="3.6" height="6.2" fill="#ef5350"/>
<rect x="271.56" y="456.3" width="3.6" height="12.3" fill="#ef5350"/>
<rect x="275.92" y="456.3" width="3.6" height="17.4" fill="#ef5350"/>
<rect x="280.28" y="456.3" width="3.6" height="18.3" fill="#ef5350"/>
<rect x="284.64" y="456.3" width="3.6" height="21.2" fill="#ef5350"/>
<rect x="289.00" y="456.3" width="3.6" height="22.3" fill="#ef5350"/>
<rect x="293.36" y="456.3" width="3.6" height="20.5" fill="#ffcdd2"/>
<rect x="297.72" y="456.3" width="3.6" height="14.5" fill="#ffcdd2"/>
<rect x="302.08" y="456.3" width="3.6" height="5.6" fill="#ffcdd2"/>
<rect x="306.44" y="454.5" width="3.6" height="1.8" fill="#26a69a"/>
<rect x="310.80" y="450.7" width="3.6" height="5.6" fill="#26a69a"/>
<rect x="315.16" y="447.8" width="3.6" height="8.5" fill="#26a69a"/>
<rect x="319.52" y="446.9" width="3.6" height="9.4" fill="#26a69a"/>
<rect x="323.88" y="450.1" width="3.6" height="6.2" fill="#b2dfdb"/>
<rect x="328.24" y="451.4" width="3.6" height="4.9" fill="#b2dfdb"/>
<rect x="332.60" y="450.7" width="3.6" height="5.6" fill="#26a69a"/>
<rect x="336.96" y="450.1" width="3.6" height="6.2" fill="#26a69a"/>
<rect x="341.32" y="447.4" width="3.6" height="8.9" fill="#26a69a"/>
<rect x="345.68" y="447.4" width="3.6" height="8.9" fill="#26a69a"/>
<rect x="350.04" y="446.9" width="3.6" height="9.4" fill="#b2dfdb"/>
<rect x="354.40" y="445.6" width="3.6" height="10.7" fill="#26a69a"/>
<rect x="358.76" y="444.0" width="3.6" height="12.3" fill="#26a69a"/>
<rect x="363.12" y="442.5" width="3.6" height="13.8" fill="#26a69a"/>
<rect x="367.48" y="441.8" width="3.6" height="14.5" fill="#26a69a"/>
<rect x="371.84" y="442.9" width="3.6" height="13.4" fill="#b2dfdb"/>
<rect x="376.20" y="444.0" width="3.6" height="12.3" fill="#b2dfdb"/>
<rect x="380.56" y="447.8" width="3.6" height="8.5" fill="#b2dfdb"/>
<rect x="384.92" y="450.7" width="3.6" height="5.6" fill="#b2dfdb"/>
<rect x="389.28" y="452.5" width="3.6" height="3.8" fill="#b2dfdb"/>
<rect x="393.64" y="453.0" width="3.6" height="3.3" fill="#b2dfdb"/>
<rect x="398.00" y="453.0" width="3.6" height="3.3" fill="#26a69a"/>
<rect x="402.36" y="453.2" width="3.6" height="3.1" fill="#b2dfdb"/>
<rect x="406.72" y="455.2" width="3.6" height="1.1" fill="#b2dfdb"/>
<rect x="411.08" y="456.3" width="3.6" height="0.7" fill="#ef5350"/>
<rect x="415.44" y="456.3" width="3.6" height="1.8" fill="#ef5350"/>
<rect x="419.80" y="456.3" width="3.6" height="4.5" fill="#ef5350"/>
<rect x="424.16" y="456.3" width="3.6" height="5.6" fill="#ef5350"/>
<rect x="428.52" y="456.3" width="3.6" height="5.6" fill="#ef5350"/>
<rect x="432.88" y="456.3" width="3.6" height="4.9" fill="#ffcdd2"/>
<rect x="437.24" y="456.3" width="3.6" height="6.2" fill="#ef5350"/>
<rect x="441.60" y="456.3" width="3.6" height="4.9" fill="#ffcdd2"/>
<rect x="445.96" y="456.3" width="3.6" height="5.3" fill="#ef5350"/>
<rect x="450.32" y="456.3" width="3.6" height="5.6" fill="#ef5350"/>
<rect x="454.68" y="456.3" width="3.6" height="4.9" fill="#ffcdd2"/>
<rect x="459.04" y="456.3" width="3.6" height="4.0" fill="#ffcdd2"/>
<rect x="463.40" y="456.3" width="3.6" height="1.8" fill="#ffcdd2"/>
<rect x="467.76" y="456.3" width="3.6" height="0.5" fill="#ffcdd2"/>
<rect x="472.12" y="455.6" width="3.6" height="0.7" fill="#26a69a"/>
<rect x="476.48" y="454.5" width="3.6" height="1.8" fill="#26a69a"/>
<rect x="480.84" y="453.6" width="3.6" height="2.7" fill="#26a69a"/>
<rect x="485.20" y="455.8" width="3.6" height="0.5" fill="#b2dfdb"/>
<rect x="489.56" y="456.3" width="3.6" height="0.7" fill="#ef5350"/>
<rect x="493.92" y="456.3" width="3.6" height="1.3" fill="#ef5350"/>
<rect x="498.28" y="456.3" width="3.6" height="3.3" fill="#ef5350"/>
<rect x="502.64" y="456.3" width="3.6" height="4.5" fill="#ef5350"/>
<rect x="507.00" y="456.3" width="3.6" height="4.5" fill="#ef5350"/>
<rect x="511.36" y="456.3" width="3.6" height="3.3" fill="#ffcdd2"/>
<rect x="515.72" y="456.3" width="3.6" height="2.7" fill="#ffcdd2"/>
<rect x="520.08" y="456.3" width="3.6" height="2.7" fill="#ef5350"/>
<rect x="524.44" y="456.3" width="3.6" height="4.5" fill="#ef5350"/>
<rect x="528.80" y="456.3" width="3.6" height="4.9" fill="#ef5350"/>
<rect x="533.16" y="456.3" width="3.6" height="6.7" fill="#ef5350"/>
<rect x="537.52" y="456.3" width="3.6" height="6.2" fill="#ffcdd2"/>
<rect x="541.88" y="456.3" width="3.6" height="4.9" fill="#ffcdd2"/>
<rect x="546.24" y="456.3" width="3.6" height="2.2" fill="#ffcdd2"/>
<rect x="550.60" y="456.3" width="3.6" height="1.1" fill="#ffcdd2"/>
<rect x="554.96" y="456.3" width="3.6" height="0.6" fill="#ffcdd2"/>
<rect x="559.32" y="456.3" width="3.6" height="0.6" fill="#ffcdd2"/>
<rect x="563.68" y="456.3" width="3.6" height="0.6" fill="#ffcdd2"/>
<rect x="568.04" y="456.3" width="3.6" height="0.6" fill="#ef5350"/>
<rect x="572.40" y="456.3" width="3.6" height="0.6" fill="#ef5350"/>
<path d="M47.5 445.0 L48.6 443.9 L50.3 442.4 L52.0 441.0 L53.6 439.8 L55.4 438.6 L57.0 437.5 L58.5 436.4 L60.0 435.4 L61.5 434.5 L63.0 433.7 L64.6 433.1 L66.3 432.6 L68.2 432.4 L70.1 432.5 L72.0 432.6 L73.7 432.7 L75.4 433.0 L77.0 433.2 L78.6 433.5 L80.2 433.7 L81.9 434.0 L83.8 434.2 L85.8 434.4 L88.0 434.7 L90.3 435.1 L92.8 435.7 L95.3 436.2 L97.8 436.7 L100.4 437.2 L103.0 437.6 L105.6 438.0 L108.3 438.3 L110.9 438.5 L113.3 438.7 L115.6 438.8 L118.0 438.8 L120.8 438.7 L123.8 438.5 L126.5 438.3 L128.8 438.0 L130.9 437.8 L133.0 437.5 L135.3 437.2 L137.7 437.0 L139.9 436.9 L141.7 437.0 L143.3 437.2 L145.0 437.5 L147.0 438.0 L149.0 438.6 L151.0 439.2 L152.9 439.8 L154.7 440.5 L156.5 441.2 L158.4 442.0 L160.3 442.8 L162.1 443.6 L163.8 444.2 L165.5 444.8 L167.0 445.3 L168.4 445.8 L169.7 446.2 L171.1 446.5 L172.7 446.7 L174.4 446.9 L176.0 447.0 L177.3 447.0 L178.6 447.0 L180.0 447.0 L181.7 446.9 L183.6 446.8 L185.5 446.7 L187.4 446.5 L189.2 446.3 L191.1 445.9 L192.9 445.2 L194.7 444.4 L196.5 443.5 L198.4 442.5 L200.4 441.4 L202.3 440.3 L204.1 439.1 L205.8 437.8 L207.5 436.5 L209.1 435.3 L210.6 434.1 L212.3 433.2 L214.4 432.6 L216.7 432.2 L219.0 431.8 L221.3 431.3 L223.7 430.8 L225.7 430.9 L227.2 431.7 L228.3 433.0 L229.5 434.5 L230.8 436.3 L232.0 438.3 L233.5 439.6 L235.2 439.7 L237.1 439.1 L239.0 438.5 L240.9 438.1 L242.7 437.6 L244.6 436.9 L246.4 435.9 L248.2 434.7 L250.0 433.5 L252.0 432.3 L254.0 431.1 L255.8 430.3 L257.3 430.3 L258.7 430.7 L260.0 431.2 L261.3 431.7 L262.5 432.4 L263.6 433.2 L264.6 434.1 L265.6 435.2 L266.5 436.3 L267.4 437.4 L268.3 438.7 L269.2 440.3 L270.3 442.4 L271.4 444.9 L272.5 447.5 L273.6 450.3 L274.8 453.3 L275.9 455.9 L276.9 458.0 L277.9 459.7 L279.0 461.5 L280.1 463.3 L281.3 465.1 L282.5 467.0 L283.7 468.9 L284.9 470.9 L286.0 472.8 L287.1 474.7 L288.2 476.6 L289.2 478.2 L290.2 479.5 L291.1 480.6 L292.0 481.5 L293.0 482.3 L293.9 482.9 L294.8 483.3 L295.6 483.4 L296.3 483.3 L297.0 483.0 L297.7 482.7 L298.5 482.2 L299.3 481.5 L300.2 480.5 L301.1 479.3 L302.0 478.0 L302.9 476.6 L303.8 475.2 L304.8 473.7 L305.8 472.2 L306.9 470.7 L308.0 469.2 L309.1 467.8 L310.2 466.4 L311.5 464.8 L313.0 462.7 L314.5 460.4 L316.0 458.5 L317.3 457.1 L318.4 456.1 L319.5 455.3 L320.6 454.6 L321.6 454.0 L322.7 453.7 L323.8 453.9 L324.9 454.3 L326.0 454.7 L327.1 455.0 L328.2 455.3 L329.4 455.4 L330.6 455.3 L331.8 455.1 L333.0 454.8 L334.0 454.5 L335.0 454.2 L336.0 453.7 L337.1 452.8 L338.3 451.7 L339.5 450.5 L340.5 449.3 L341.6 448.1 L342.7 447.0 L344.0 446.0 L345.5 445.1 L347.0 444.3 L348.6 443.6 L350.1 442.9 L351.7 442.0 L353.2 440.7 L354.6 439.1 L356.0 437.5 L357.5 435.9 L359.1 434.2 L360.6 432.5 L362.1 430.9 L363.5 429.3 L365.0 427.8 L366.5 426.3 L368.0 424.8 L369.5 423.6 L370.9 422.7 L372.2 422.0 L373.5 421.5 L374.8 421.1 L376.1 420.8 L377.3 420.7 L378.3 420.8 L379.1 421.1 L380.0 421.5 L380.9 421.9 L381.8 422.4 L382.9 422.9 L384.2 423.5 L385.5 424.1 L387.0 424.7 L388.5 425.3 L390.1 425.9 L391.8 426.2 L393.6 426.0 L395.6 425.5 L397.5 425.0 L399.4 424.6 L401.2 424.2 L403.0 424.0 L404.6 424.2 L406.0 424.7 L407.5 425.2 L409.0 425.7 L410.5 426.3 L411.9 426.9 L413.3 427.6 L414.6 428.4 L416.0 429.2 L417.5 430.0 L419.1 430.9 L420.8 431.8 L422.5 432.7 L424.2 433.6 L426.0 434.5 L428.0 435.4 L430.1 436.2 L431.9 436.9 L433.3 437.5 L434.4 438.0 L435.5 438.5 L436.6 438.9 L437.6 439.3 L438.6 439.6 L439.5 439.7 L440.2 439.6 L441.0 439.5 L441.7 439.4 L442.3 439.2 L443.1 439.2 L444.1 439.4 L445.3 439.8 L446.5 440.2 L447.6 440.6 L448.7 441.0 L449.8 441.4 L451.0 441.8 L452.2 442.2 L453.5 442.5 L454.9 442.7 L456.4 442.9 L457.8 443.0 L459.1 442.9 L460.3 442.7 L461.5 442.5 L462.8 442.2 L464.2 441.8 L465.6 441.4 L467.0 440.9 L468.5 440.3 L470.0 439.8 L471.5 439.3 L473.0 438.9 L474.5 438.5 L475.9 438.2 L477.2 437.9 L478.5 437.7 L479.8 437.5 L481.0 437.4 L482.3 437.4 L483.5 437.4 L484.7 437.5 L486.0 437.7 L487.3 437.9 L488.7 438.2 L490.1 438.5 L491.4 438.9 L492.7 439.3 L494.0 439.8 L495.3 440.3 L496.6 440.8 L497.9 441.4 L499.3 442.2 L500.7 443.0 L502.0 443.8 L503.3 444.6 L504.5 445.3 L505.7 445.9 L506.8 446.2 L507.9 446.4 L509.0 446.5 L510.1 446.6 L511.2 446.6 L512.4 446.5 L513.6 446.2 L514.8 445.9 L516.0 445.6 L517.0 445.3 L518.0 445.2 L519.1 445.2 L520.3 445.6 L521.7 446.3 L523.0 447.0 L524.3 447.7 L525.6 448.4 L526.9 449.2 L528.3 450.0 L529.7 450.9 L531.0 451.8 L532.3 452.6 L533.5 453.4 L534.7 454.1 L535.7 454.6 L536.6 454.9 L537.5 455.2 L538.4 455.4 L539.4 455.4 L540.3 455.4 L541.2 455.3 L542.1 455.1 L543.0 454.8 L543.9 454.5 L544.9 454.1 L545.9 453.7 L546.9 453.4 L547.9 453.1 L549.0 452.8 L550.1 452.5 L551.2 452.3 L552.5 452.1 L553.9 451.9 L555.5 451.7 L557.0 451.6 L558.5 451.5 L559.9 451.4 L561.5 451.4 L563.2 451.4 L565.0 451.5 L567.0 451.6 L569.4 451.7 L571.9 451.8 L573.7 451.9" fill="none" stroke="#2196f3" stroke-width="1.5" stroke-linejoin="round"/>
<path d="M47.5 451.0 L48.6 450.4 L50.3 449.5 L52.0 448.6 L53.8 447.7 L55.6 446.8 L57.4 446.0 L59.0 445.3 L60.5 444.8 L62.0 444.2 L63.5 443.7 L64.9 443.1 L66.3 442.6 L67.6 442.1 L68.8 441.5 L70.0 441.0 L71.1 440.4 L72.1 439.8 L73.0 439.2 L73.9 438.6 L74.7 438.0 L75.5 437.6 L76.1 437.3 L76.8 437.2 L78.0 437.1 L80.2 437.0 L83.0 437.0 L86.0 437.0 L89.1 437.0 L92.3 436.9 L95.3 436.9 L98.0 437.0 L100.5 437.1 L103.0 437.2 L105.5 437.3 L108.0 437.5 L110.9 437.6 L114.4 437.7 L118.2 437.7 L122.0 437.7 L125.9 437.7 L129.7 437.6 L133.2 437.6 L136.1 437.7 L138.5 437.8 L141.0 437.9 L143.7 438.1 L146.3 438.2 L148.8 438.5 L151.0 438.9 L152.9 439.3 L155.0 439.8 L157.3 440.3 L159.7 440.9 L162.1 441.4 L164.4 441.9 L166.7 442.5 L169.0 443.0 L171.3 443.5 L173.5 444.0 L175.5 444.3 L177.1 444.4 L178.5 444.5 L180.0 444.5 L181.8 444.6 L183.8 444.8 L186.0 444.9 L188.4 445.0 L190.9 444.9 L193.4 444.8 L195.7 444.5 L197.8 444.0 L200.0 443.4 L202.2 442.8 L204.4 442.1 L206.8 441.4 L209.4 440.5 L212.1 439.6 L215.0 438.7 L218.2 437.8 L221.5 436.9 L224.6 436.3 L227.2 436.2 L229.6 436.5 L232.0 436.8 L234.7 437.1 L237.5 437.5 L240.2 437.6 L242.6 437.3 L244.8 436.8 L247.0 436.3 L249.3 435.8 L251.5 435.2 L253.6 434.7 L255.5 434.4 L257.2 434.1 L259.0 434.0 L260.9 433.9 L262.9 433.8 L264.7 434.0 L266.2 434.4 L267.6 435.0 L269.0 435.8 L270.5 436.8 L272.1 437.9 L273.6 439.2 L275.1 440.6 L276.5 442.2 L278.0 443.8 L279.5 445.5 L281.0 447.3 L282.5 449.2 L284.0 451.2 L285.5 453.2 L287.0 455.3 L288.5 457.5 L290.0 459.6 L291.5 461.5 L292.9 462.9 L294.2 463.9 L295.5 464.8 L296.8 465.7 L298.0 466.4 L299.3 467.0 L300.5 467.5 L301.7 467.8 L303.0 468.0 L304.4 468.2 L305.8 468.2 L307.1 468.2 L308.3 468.0 L309.4 467.7 L310.5 467.3 L311.6 466.8 L312.8 466.3 L313.8 465.9 L314.5 465.7 L315.1 465.5 L316.0 465.2 L317.6 464.6 L319.5 463.8 L321.5 463.0 L323.4 462.1 L325.2 461.2 L327.1 460.4 L328.9 459.7 L330.7 459.1 L332.5 458.5 L334.4 457.8 L336.4 457.1 L338.3 456.3 L340.2 455.6 L342.1 454.8 L344.0 454.0 L345.8 453.2 L347.6 452.3 L349.4 451.4 L351.3 450.4 L353.1 449.3 L355.0 448.2 L356.9 447.1 L358.7 445.9 L360.6 444.7 L362.4 443.3 L364.2 441.8 L366.0 440.3 L367.9 438.8 L369.8 437.2 L371.7 435.8 L373.5 434.7 L375.2 433.7 L377.0 432.8 L378.9 431.9 L380.9 431.0 L382.9 430.3 L384.8 429.7 L386.7 429.3 L388.5 428.9 L390.3 428.6 L392.2 428.3 L394.0 428.0 L395.8 427.7 L397.7 427.4 L399.5 427.1 L401.4 426.9 L403.3 426.6 L405.2 426.5 L407.1 426.5 L409.1 426.5 L411.0 426.6 L412.8 426.6 L414.5 426.7 L416.3 426.9 L418.2 427.3 L420.1 427.7 L422.0 428.2 L423.8 428.7 L425.7 429.1 L427.5 429.6 L429.3 430.1 L431.2 430.5 L433.0 431.0 L434.9 431.5 L436.7 432.0 L438.6 432.5 L440.4 433.0 L442.2 433.6 L444.0 434.1 L445.9 434.6 L447.8 435.2 L449.8 435.8 L451.9 436.5 L454.0 437.2 L456.0 437.8 L457.8 438.3 L459.4 438.8 L461.1 439.2 L462.9 439.4 L464.7 439.5 L466.5 439.6 L468.4 439.6 L470.4 439.7 L472.3 439.6 L474.2 439.5 L476.1 439.3 L478.0 439.1 L479.8 438.9 L481.6 438.6 L483.4 438.5 L485.3 438.5 L487.1 438.6 L489.0 438.7 L490.9 438.8 L492.7 439.0 L494.6 439.2 L496.4 439.5 L498.2 439.8 L500.0 440.2 L501.9 440.6 L503.8 441.0 L505.7 441.4 L507.5 441.7 L509.2 442.0 L511.0 442.3 L512.9 442.6 L514.9 442.9 L516.9 443.2 L518.8 443.6 L520.7 444.0 L522.5 444.5 L524.3 444.9 L526.2 445.4 L528.0 445.9 L529.8 446.5 L531.7 447.1 L533.5 447.8 L535.4 448.5 L537.4 449.1 L539.2 449.7 L540.9 450.1 L542.5 450.5 L544.0 450.8 L545.3 451.1 L546.6 451.3 L548.1 451.4 L550.2 451.5 L552.6 451.5 L555.0 451.5 L557.2 451.5 L559.4 451.4 L561.5 451.4 L563.4 451.4 L565.1 451.5 L567.0 451.6 L569.4 451.7 L571.9 451.8 L573.7 451.9" fill="none" stroke="#f57c00" stroke-width="1.5" stroke-linejoin="round"/>
</g>
<ellipse cx="67.5" cy="458.3" rx="13.3" ry="20.6" fill="#fff" stroke="#e4e4e4" stroke-width="1"/>
<g fill="#2196f3"><ellipse cx="60.9" cy="458.2" rx="3" ry="4.9"/><ellipse cx="66.1" cy="452" rx="4.7" ry="5.1"/><ellipse cx="73.5" cy="459" rx="2.7" ry="4.8"/><rect x="59.6" y="455.5" width="15.4" height="8.4" rx="1.2"/><path d="M68 450 L73.4 451.4 L72 457 Z"/></g>
<polyline points="57.6,461.8 65.1,452.3 69.8,461.6 73.4,450.8" fill="none" stroke="#fff" stroke-width="1.5" stroke-linejoin="miter"/>
<line x1="2" y1="2.2" x2="626" y2="2.2" stroke="#4d4d4d" stroke-width="1.1"/>
<line x1="2" y1="416" x2="626" y2="416" stroke="#4d4d4d" stroke-width="1.1"/>
<line x1="2" y1="488.3" x2="626" y2="488.3" stroke="#4d4d4d" stroke-width="1.1"/>
<line x1="2" y1="524.4" x2="626" y2="524.4" stroke="#4d4d4d" stroke-width="1.1"/>
<line x1="47.5" y1="2" x2="47.5" y2="524" stroke="#4d4d4d" stroke-width="1.1"/>
<rect x="2" y="45.2" width="45.5" height="22.7" fill="#1b9aa6"/>
<rect x="2" y="67.8" width="45.5" height="22.7" fill="#e65100"/>
<rect x="2" y="94" width="45.5" height="69" fill="#673ab7"/>
<rect x="2" y="164" width="45.5" height="22.8" fill="#673ab7"/>

<rect x="2" y="349.1" width="45.5" height="22.4" fill="#e65100"/>
<text x="9.3" y="40.8" font-size="14.7" fill="#5a5a5a" stroke="#5a5a5a" stroke-width="0.3" font-weight="normal" textLength="30.8" lengthAdjust="spacingAndGlyphs">1760.00</text>
<line x1="44" y1="35.8" x2="47.5" y2="35.8" stroke="#4d4d4d" stroke-width="1"/>
<text x="9.3" y="60.9" font-size="14.7" fill="#fff" stroke="#fff" stroke-width="0.3" font-weight="normal" textLength="30.8" lengthAdjust="spacingAndGlyphs">1740.00</text>
<line x1="44" y1="55.9" x2="47.5" y2="55.9" stroke="#fff" stroke-width="1"/>
<text x="9.3" y="83.9" font-size="14.7" fill="#fff" stroke="#fff" stroke-width="0.3" font-weight="normal" textLength="30.8" lengthAdjust="spacingAndGlyphs">1720.00</text>
<line x1="44" y1="78.9" x2="47.5" y2="78.9" stroke="#fff" stroke-width="1"/>
<text x="9.3" y="110.8" font-size="14.7" fill="#fff" stroke="#fff" stroke-width="0.3" font-weight="normal" textLength="30.8" lengthAdjust="spacingAndGlyphs">1693.88</text>
<line x1="44" y1="105.8" x2="47.5" y2="105.8" stroke="#fff" stroke-width="1"/>
<text x="9.3" y="133.7" font-size="14.7" fill="#fff" stroke="#fff" stroke-width="0.3" font-weight="normal" textLength="30.8" lengthAdjust="spacingAndGlyphs">1679.45</text>
<line x1="44" y1="128.7" x2="47.5" y2="128.7" stroke="#fff" stroke-width="1"/>
<text x="9.3" y="156.3" font-size="14.7" fill="#fff" stroke="#fff" stroke-width="0.3" font-weight="normal" textLength="30.8" lengthAdjust="spacingAndGlyphs">1660.00</text>
<line x1="44" y1="151.3" x2="47.5" y2="151.3" stroke="#fff" stroke-width="1"/>
<text x="9.3" y="180.1" font-size="14.7" fill="#fff" stroke="#fff" stroke-width="0.3" font-weight="normal" textLength="30.8" lengthAdjust="spacingAndGlyphs">1640.00</text>
<line x1="44" y1="175.1" x2="47.5" y2="175.1" stroke="#fff" stroke-width="1"/>
<text x="9.3" y="209.3" font-size="14.7" fill="#5a5a5a" stroke="#5a5a5a" stroke-width="0.3" font-weight="normal" textLength="30.8" lengthAdjust="spacingAndGlyphs">1600.00</text>
<line x1="44" y1="204.3" x2="47.5" y2="204.3" stroke="#4d4d4d" stroke-width="1"/>
<text x="9.3" y="251.3" font-size="14.7" fill="#5a5a5a" stroke="#5a5a5a" stroke-width="0.3" font-weight="normal" textLength="30.8" lengthAdjust="spacingAndGlyphs">1560.00</text>
<line x1="44" y1="246.3" x2="47.5" y2="246.3" stroke="#4d4d4d" stroke-width="1"/>
<text x="9.3" y="293.8" font-size="14.7" fill="#5a5a5a" stroke="#5a5a5a" stroke-width="0.3" font-weight="normal" textLength="30.8" lengthAdjust="spacingAndGlyphs">1520.00</text>
<line x1="44" y1="288.8" x2="47.5" y2="288.8" stroke="#4d4d4d" stroke-width="1"/>
<text x="9.3" y="335.6" font-size="14.7" fill="#5a5a5a" stroke="#5a5a5a" stroke-width="0.3" font-weight="normal" textLength="30.8" lengthAdjust="spacingAndGlyphs">1480.00</text>
<line x1="44" y1="330.6" x2="47.5" y2="330.6" stroke="#4d4d4d" stroke-width="1"/>
<text x="9.3" y="377.8" font-size="14.7" fill="#5a5a5a" stroke="#5a5a5a" stroke-width="0.3" font-weight="normal" textLength="30.8" lengthAdjust="spacingAndGlyphs">1440.00</text>
<line x1="44" y1="372.4" x2="47.5" y2="372.4" stroke="#4d4d4d" stroke-width="1"/>
<rect x="2" y="349.1" width="45.5" height="22.4" fill="#e65100"/>
<text x="9.6" y="365.2" font-size="14.7" fill="#fff" stroke="#fff" stroke-width="0.3" font-weight="normal" textLength="31.0" lengthAdjust="spacingAndGlyphs">1452.24</text>
<line x1="44" y1="360.4" x2="47.5" y2="360.4" stroke="#fff" stroke-width="1"/>
<text x="54.8" y="31.8" font-size="14.1" fill="#555" stroke="#555" stroke-width="0.3" font-weight="bold" textLength="145.5" lengthAdjust="spacingAndGlyphs">Gold Spot / U.S. Dollar, 1D, IDC</text>
<text x="54.8" y="55.5" font-size="14.0" fill="#5e5e5e" stroke="#5e5e5e" stroke-width="0.3" font-weight="normal" textLength="72.2" lengthAdjust="spacingAndGlyphs">BB (20, close, 2)</text>
<text x="54.8" y="77.2" font-size="14.0" fill="#5e5e5e" stroke="#5e5e5e" stroke-width="0.3" font-weight="normal" textLength="82.8" lengthAdjust="spacingAndGlyphs">MA (200, close, 0)</text>
<text x="54.8" y="445.4" font-size="14.0" fill="#5e5e5e" stroke="#5e5e5e" stroke-width="0.3" font-weight="normal" textLength="107.0" lengthAdjust="spacingAndGlyphs">MACD (12, 26, close, 9)</text>
<text x="236.6" y="46.8" font-size="21.6" fill="#111" stroke="#111" stroke-width="0.3" font-weight="bold" textLength="66.0" lengthAdjust="spacingAndGlyphs">XAU DAY</text>
<ellipse cx="24.2" cy="506.5" rx="7.6" ry="13.4" fill="#ecedf2"/>
<text x="22.3" y="511.4" font-size="13.4" fill="#555" stroke="#555" stroke-width="0.3" font-weight="normal" textLength="4.0" lengthAdjust="spacingAndGlyphs">Z</text>
<text x="139.1" y="513.4" font-size="13.5" fill="#5a5a5a" stroke="#5a5a5a" stroke-width="0.3" font-weight="normal" textLength="15.2" lengthAdjust="spacingAndGlyphs">Feb</text>
<line x1="146.7" y1="488" x2="146.7" y2="492.4" stroke="#4d4d4d" stroke-width="1"/>
<text x="226.1" y="513.4" font-size="13.5" fill="#5a5a5a" stroke="#5a5a5a" stroke-width="0.3" font-weight="normal" textLength="15.8" lengthAdjust="spacingAndGlyphs">Mar</text>
<line x1="234.0" y1="488" x2="234.0" y2="492.4" stroke="#4d4d4d" stroke-width="1"/>
<text x="321.7" y="513.4" font-size="13.5" fill="#5a5a5a" stroke="#5a5a5a" stroke-width="0.3" font-weight="normal" textLength="14.6" lengthAdjust="spacingAndGlyphs">Apr</text>
<line x1="329.0" y1="488" x2="329.0" y2="492.4" stroke="#4d4d4d" stroke-width="1"/>
<text x="416.5" y="513.4" font-size="13.5" fill="#5a5a5a" stroke="#5a5a5a" stroke-width="0.3" font-weight="normal" textLength="17.0" lengthAdjust="spacingAndGlyphs">May</text>
<line x1="425.0" y1="488" x2="425.0" y2="492.4" stroke="#4d4d4d" stroke-width="1"/>
<text x="510.0" y="513.4" font-size="13.5" fill="#5a5a5a" stroke="#5a5a5a" stroke-width="0.3" font-weight="normal" textLength="14.0" lengthAdjust="spacingAndGlyphs">Jun</text>
<line x1="517.0" y1="488" x2="517.0" y2="492.4" stroke="#4d4d4d" stroke-width="1"/>
<text x="607.0" y="513.4" font-size="13.5" fill="#5a5a5a" stroke="#5a5a5a" stroke-width="0.3" font-weight="normal" textLength="12.0" lengthAdjust="spacingAndGlyphs">Jul</text>
<line x1="613.0" y1="488" x2="613.0" y2="492.4" stroke="#4d4d4d" stroke-width="1"/>
<text x="48.5" y="513.4" font-size="13.5" fill="#5a5a5a" stroke="#5a5a5a" stroke-width="0.3" font-weight="normal" textLength="12.6" lengthAdjust="spacingAndGlyphs">020</text>
<line x1="51" y1="488" x2="51" y2="492.4" stroke="#4d4d4d" stroke-width="1"/>
</svg></body></html>
